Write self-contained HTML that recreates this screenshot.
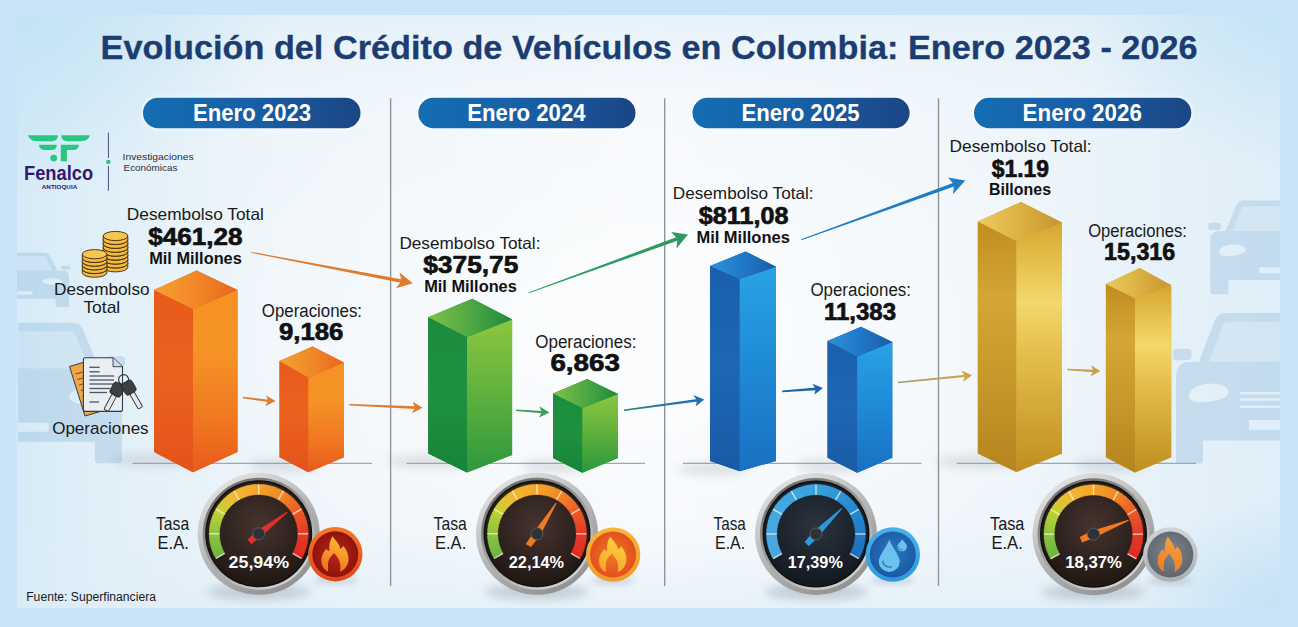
<!DOCTYPE html>
<html><head><meta charset="utf-8"><title>Evolución del Crédito de Vehículos en Colombia</title>
<style>html,body{margin:0;padding:0;background:#c9e4f6;} body{width:1298px;height:627px;overflow:hidden;font-family:"Liberation Sans", sans-serif;} svg{display:block}</style>
</head><body>
<svg width="1298" height="627" viewBox="0 0 1298 627">
<defs>
<linearGradient id="pill" x1="0" y1="0" x2="1" y2="0">
  <stop offset="0" stop-color="#146db2"/><stop offset="0.5" stop-color="#175fa6"/><stop offset="1" stop-color="#1c4584"/>
</linearGradient>
<filter id="blur3" x="-50%" y="-50%" width="200%" height="200%"><feGaussianBlur stdDeviation="3"/></filter>
<filter id="blur5" x="-50%" y="-50%" width="200%" height="200%"><feGaussianBlur stdDeviation="5"/></filter>
<filter id="blur2" x="-50%" y="-50%" width="200%" height="200%"><feGaussianBlur stdDeviation="1.5"/></filter>
<linearGradient id="orangeL" x1="0" y1="0" x2="0" y2="1"><stop offset="0" stop-color="#e85a1b"/><stop offset="0.45" stop-color="#ea621e"/><stop offset="1" stop-color="#e4531a"/></linearGradient><linearGradient id="orangeR" x1="0" y1="0" x2="0" y2="1"><stop offset="0" stop-color="#f59222"/><stop offset="0.35" stop-color="#f59326"/><stop offset="0.75" stop-color="#ef7420"/><stop offset="1" stop-color="#e85a1c"/></linearGradient><linearGradient id="orangeT" x1="0" y1="0" x2="1" y2="0"><stop offset="0" stop-color="#f6a032"/><stop offset="0.55" stop-color="#f08527"/><stop offset="1" stop-color="#e7661d"/></linearGradient><linearGradient id="greenL" x1="0" y1="0" x2="0" y2="1"><stop offset="0" stop-color="#1c8c3c"/><stop offset="0.5" stop-color="#1f913e"/><stop offset="1" stop-color="#168438"/></linearGradient><linearGradient id="greenR" x1="0" y1="0" x2="0" y2="1"><stop offset="0" stop-color="#8cc63f"/><stop offset="0.45" stop-color="#63b33d"/><stop offset="1" stop-color="#2c983e"/></linearGradient><linearGradient id="greenT" x1="0" y1="0" x2="1" y2="0"><stop offset="0" stop-color="#7fc247"/><stop offset="0.5" stop-color="#4ea843"/><stop offset="1" stop-color="#1e8a3e"/></linearGradient><linearGradient id="blueL" x1="0" y1="0" x2="0" y2="1"><stop offset="0" stop-color="#1a60ad"/><stop offset="0.5" stop-color="#1d67b3"/><stop offset="1" stop-color="#195aa6"/></linearGradient><linearGradient id="blueR" x1="0" y1="0" x2="0" y2="1"><stop offset="0" stop-color="#2aa2e5"/><stop offset="0.45" stop-color="#1f8cd8"/><stop offset="1" stop-color="#1a70c2"/></linearGradient><linearGradient id="blueT" x1="0" y1="0" x2="1" y2="0"><stop offset="0" stop-color="#2c92da"/><stop offset="0.5" stop-color="#2078c8"/><stop offset="1" stop-color="#1a5ca8"/></linearGradient><linearGradient id="goldL" x1="0" y1="0" x2="0" y2="1"><stop offset="0" stop-color="#c18d20"/><stop offset="0.3" stop-color="#d3a636"/><stop offset="0.6" stop-color="#c89a2c"/><stop offset="1" stop-color="#b5841f"/></linearGradient><linearGradient id="goldR" x1="0" y1="0" x2="0" y2="1"><stop offset="0" stop-color="#d7a72f"/><stop offset="0.32" stop-color="#f3d86b"/><stop offset="0.5" stop-color="#e6c150"/><stop offset="1" stop-color="#bf8f20"/></linearGradient><linearGradient id="goldT" x1="0" y1="0" x2="1" y2="0"><stop offset="0" stop-color="#ecca5e"/><stop offset="0.5" stop-color="#dcb142"/><stop offset="1" stop-color="#c69430"/></linearGradient>
<linearGradient id="bezel" x1="0.2" y1="0" x2="0.8" y2="1">
 <stop offset="0" stop-color="#e6e6e6"/><stop offset="0.45" stop-color="#b9b9b9"/><stop offset="1" stop-color="#8d8d8d"/></linearGradient>
<linearGradient id="bezel2" x1="0.8" y1="1" x2="0.2" y2="0">
 <stop offset="0" stop-color="#d8d8d8"/><stop offset="1" stop-color="#6a6a6a"/></linearGradient>
<radialGradient id="face0" cx="0.5" cy="0.42" r="0.55"><stop offset="0" stop-color="#46342e"/><stop offset="1" stop-color="#221916"/></radialGradient><radialGradient id="face1" cx="0.5" cy="0.42" r="0.55"><stop offset="0" stop-color="#46342e"/><stop offset="1" stop-color="#221916"/></radialGradient><radialGradient id="face2" cx="0.5" cy="0.42" r="0.55"><stop offset="0" stop-color="#2a3440"/><stop offset="1" stop-color="#141a22"/></radialGradient><radialGradient id="face3" cx="0.5" cy="0.42" r="0.55"><stop offset="0" stop-color="#46342e"/><stop offset="1" stop-color="#221916"/></radialGradient>
<radialGradient id="b1in" cx="0.5" cy="0.5" r="0.5"><stop offset="0" stop-color="#b8261a"/><stop offset="1" stop-color="#8f130c"/></radialGradient>
<linearGradient id="b1ring" x1="0" y1="0" x2="0" y2="1"><stop offset="0" stop-color="#f27a2c"/><stop offset="1" stop-color="#e0461c"/></linearGradient>
<linearGradient id="flame1" x1="0.2" y1="1" x2="0.5" y2="0"><stop offset="0" stop-color="#ef6e20"/><stop offset="0.5" stop-color="#f6932a"/><stop offset="1" stop-color="#fbba30"/></linearGradient>
<radialGradient id="b2in" cx="0.5" cy="0.5" r="0.5"><stop offset="0" stop-color="#f07a28"/><stop offset="1" stop-color="#e2501c"/></radialGradient>
<linearGradient id="b2ring" x1="0" y1="0" x2="0" y2="1"><stop offset="0" stop-color="#f8b53a"/><stop offset="1" stop-color="#f09a2a"/></linearGradient>
<linearGradient id="flame2" x1="0.2" y1="1" x2="0.5" y2="0"><stop offset="0" stop-color="#f7a12c"/><stop offset="1" stop-color="#fcd43e"/></linearGradient>
<radialGradient id="b3in" cx="0.5" cy="0.45" r="0.55"><stop offset="0" stop-color="#2a79c0"/><stop offset="1" stop-color="#1b58a3"/></radialGradient>
<linearGradient id="b3ring" x1="0" y1="0" x2="0" y2="1"><stop offset="0" stop-color="#48b2ea"/><stop offset="1" stop-color="#2f98dc"/></linearGradient>
<radialGradient id="b4in" cx="0.5" cy="0.45" r="0.55"><stop offset="0" stop-color="#7e858c"/><stop offset="1" stop-color="#5f666d"/></radialGradient>
<linearGradient id="b4ring" x1="0" y1="0" x2="0" y2="1"><stop offset="0" stop-color="#d2d5d8"/><stop offset="1" stop-color="#a9aeb3"/></linearGradient>
<linearGradient id="flame4" x1="0.2" y1="1" x2="0.5" y2="0"><stop offset="0" stop-color="#ef7a26"/><stop offset="1" stop-color="#f6a040"/></linearGradient>

<linearGradient id="panelH" x1="0" y1="0" x2="1" y2="0">
 <stop offset="0" stop-color="#d6ebf7"/><stop offset="0.06" stop-color="#e0eff8"/><stop offset="0.2" stop-color="#eef5fa"/>
 <stop offset="0.5" stop-color="#f6f9fc"/><stop offset="0.8" stop-color="#eef5fa"/><stop offset="0.94" stop-color="#e3f0f8"/><stop offset="1" stop-color="#dfeef8"/></linearGradient>
<linearGradient id="panelV" x1="0" y1="0" x2="0" y2="1">
 <stop offset="0" stop-color="#d6eaf7" stop-opacity="0.5"/><stop offset="0.06" stop-color="#dcedf8" stop-opacity="0.3"/><stop offset="0.16" stop-color="#e6f1f9" stop-opacity="0"/>
 <stop offset="0.85" stop-color="#e2eff8" stop-opacity="0"/><stop offset="1" stop-color="#dcecf7" stop-opacity="0.5"/></linearGradient>
<radialGradient id="cornerTL" cx="0" cy="0" r="1"><stop offset="0" stop-color="#bfe2f3" stop-opacity="0.85"/><stop offset="1" stop-color="#bfe2f3" stop-opacity="0"/></radialGradient>
<radialGradient id="cornerBR" cx="1" cy="1" r="1"><stop offset="0" stop-color="#c2e1f4" stop-opacity="0.95"/><stop offset="1" stop-color="#c2e1f4" stop-opacity="0"/></radialGradient>
<radialGradient id="cornerTR" cx="1" cy="0" r="1"><stop offset="0" stop-color="#c0e2f4" stop-opacity="0.8"/><stop offset="1" stop-color="#c0e2f4" stop-opacity="0"/></radialGradient>
<radialGradient id="glow" cx="0.5" cy="0.5" r="0.5"><stop offset="0" stop-color="#ffffff" stop-opacity="0.7"/><stop offset="1" stop-color="#ffffff" stop-opacity="0"/></radialGradient>
<mask id="carmask" maskUnits="userSpaceOnUse" x="0" y="0" width="1298" height="627"><g transform="translate(1280,313) scale(-1,1)"><path d="M0,0 L55,0 C60,0 63,3 65,7 L81,49 L0,49 Z" fill="#fff"/>
<path d="M0,9 L52,9 C55,9 57,11 58,14 L71,49 L0,49 Z" fill="#777"/>
<path d="M0,49 L92,49 C99,49 104,55 104,64 L104,127.6 L0,127.6 Z" fill="#fff"/>
<rect x="88.4" y="35.8" width="18.7" height="11.5" rx="4" fill="#fff"/>
<rect x="77" y="120" width="27" height="30.6" rx="3" fill="#fff"/>
<path d="M51,79 C53,72 62,70 74,71 C84,72 91,77 91,83 C91,88 84,90 74,89 C62,88 52,85 51,79 Z" fill="#000"/>
<rect x="0" y="79.0" width="39.7" height="2.6" fill="#000"/>
<rect x="0" y="85.2" width="39.7" height="2.6" fill="#000"/>
<rect x="0" y="92.4" width="39.7" height="2.6" fill="#000"/>
<rect x="0" y="107" width="31" height="9.7" rx="1" fill="#000"/></g><g transform="translate(1280,200.5) scale(-0.67,0.623)"><path d="M0,0 L55,0 C60,0 63,3 65,7 L81,49 L0,49 Z" fill="#fff"/>
<path d="M0,9 L52,9 C55,9 57,11 58,14 L71,49 L0,49 Z" fill="#777"/>
<path d="M0,49 L92,49 C99,49 104,55 104,64 L104,127.6 L0,127.6 Z" fill="#fff"/>
<rect x="88.4" y="35.8" width="18.7" height="11.5" rx="4" fill="#fff"/>
<rect x="77" y="120" width="27" height="30.6" rx="3" fill="#fff"/>
<path d="M51,79 C53,72 62,70 74,71 C84,72 91,77 91,83 C91,88 84,90 74,89 C62,88 52,85 51,79 Z" fill="#000"/>
<rect x="0" y="107" width="31" height="9.7" rx="1" fill="#000"/></g><g transform="translate(17.9,322.8) scale(1.0,0.933)"><path d="M0,0 L55,0 C60,0 63,3 65,7 L81,49 L0,49 Z" fill="#fff"/>
<path d="M0,9 L52,9 C55,9 57,11 58,14 L71,49 L0,49 Z" fill="#777"/>
<path d="M0,49 L92,49 C99,49 104,55 104,64 L104,127.6 L0,127.6 Z" fill="#fff"/>
<rect x="88.4" y="35.8" width="18.7" height="11.5" rx="4" fill="#fff"/>
<rect x="77" y="120" width="27" height="30.6" rx="3" fill="#fff"/>
<path d="M51,79 C53,72 62,70 74,71 C84,72 91,77 91,83 C91,88 84,90 74,89 C62,88 52,85 51,79 Z" fill="#000"/>
<rect x="0" y="107" width="31" height="9.7" rx="1" fill="#000"/></g><g transform="translate(17,252.8) scale(0.5,0.36)"><path d="M0,0 L55,0 C60,0 63,3 65,7 L81,49 L0,49 Z" fill="#fff"/>
<path d="M0,9 L52,9 C55,9 57,11 58,14 L71,49 L0,49 Z" fill="#777"/>
<path d="M0,49 L92,49 C99,49 104,55 104,64 L104,127.6 L0,127.6 Z" fill="#fff"/>
<rect x="88.4" y="35.8" width="18.7" height="11.5" rx="4" fill="#fff"/>
<rect x="77" y="120" width="27" height="30.6" rx="3" fill="#fff"/>
<path d="M51,79 C53,72 62,70 74,71 C84,72 91,77 91,83 C91,88 84,90 74,89 C62,88 52,85 51,79 Z" fill="#000"/>
<rect x="0" y="107" width="31" height="9.7" rx="1" fill="#000"/></g></mask></defs>
<rect x="0" y="0" width="1298" height="627" fill="#c9e4f6"/>
<rect x="17" y="15" width="1263" height="593" fill="url(#panelH)"/>
<rect x="17" y="15" width="1263" height="593" fill="url(#panelV)"/>
<ellipse cx="650" cy="330" rx="520" ry="260" fill="url(#glow)"/>
<rect x="17" y="15" width="260" height="180" fill="url(#cornerTL)"/>
<rect x="1080" y="15" width="200" height="150" fill="url(#cornerTR)"/>
<rect x="1130" y="500" width="150" height="108" fill="url(#cornerBR)"/>
<rect x="17" y="15" width="1263" height="593" fill="#4a8cc0" opacity="0.19" mask="url(#carmask)"/>
<rect x="141.5" y="96.3" width="220.5" height="33.4" rx="16.7" fill="#ffffff" opacity="0.55" filter="url(#blur2)"/>
<rect x="143" y="97.8" width="217.5" height="30.4" rx="15.2" fill="url(#pill)"/>
<rect x="416.8" y="96.3" width="220.2" height="33.4" rx="16.7" fill="#ffffff" opacity="0.55" filter="url(#blur2)"/>
<rect x="418.3" y="97.8" width="217.2" height="30.4" rx="15.2" fill="url(#pill)"/>
<rect x="691.0" y="96.3" width="220.1" height="33.4" rx="16.7" fill="#ffffff" opacity="0.55" filter="url(#blur2)"/>
<rect x="692.5" y="97.8" width="217.1" height="30.4" rx="15.2" fill="url(#pill)"/>
<rect x="972.5" y="96.3" width="220.3" height="33.4" rx="16.7" fill="#ffffff" opacity="0.55" filter="url(#blur2)"/>
<rect x="974" y="97.8" width="217.3" height="30.4" rx="15.2" fill="url(#pill)"/>
<line x1="390.6" y1="98.2" x2="390.6" y2="586" stroke="#8f959a" stroke-width="1.4"/>
<line x1="664.7" y1="98.2" x2="664.7" y2="586" stroke="#8f959a" stroke-width="1.4"/>
<line x1="938.5" y1="98.2" x2="938.5" y2="586" stroke="#8f959a" stroke-width="1.4"/>
<line x1="132.5" y1="463.3" x2="372" y2="463.3" stroke="#a2a7ac" stroke-width="1.3"/>
<line x1="406.7" y1="463.3" x2="645" y2="463.3" stroke="#a2a7ac" stroke-width="1.3"/>
<line x1="683" y1="463.3" x2="921.4" y2="463.3" stroke="#a2a7ac" stroke-width="1.3"/>
<line x1="956.7" y1="463.3" x2="1196" y2="463.3" stroke="#a2a7ac" stroke-width="1.3"/>
<path d="M28,135.3 L57.8,135.3 C58,138 56.5,141 52,141.2 L37,141.2 C32,141.2 29,138.5 28,135.3 Z" fill="#27c77f"/>
<path d="M89.9,135.3 L61.3,135.3 C61.2,138 62.7,141 67,141.2 L81,141.2 C86,141.2 89,138.5 89.9,135.3 Z" fill="#27c77f"/>
<path d="M38.9,144.8 L56.7,144.8 C56.7,147.5 55.5,149.9 52,149.9 L44,149.9 C41,149.9 39.3,147.5 38.9,144.8 Z" fill="#27c77f"/>
<path d="M60.8,144.8 L79,144.8 C78.6,147.5 77,149.9 74,149.9 L66.9,149.9 L66.9,161.2 L60.8,161.2 Z" fill="#27c77f"/>
<circle cx="53.7" cy="158.1" r="3.4" fill="#27c77f"/>
<line x1="108.4" y1="132.6" x2="108.4" y2="158" stroke="#4b4a8a" stroke-width="1"/>
<line x1="108.4" y1="165.8" x2="108.4" y2="190.8" stroke="#4b4a8a" stroke-width="1"/>
<circle cx="108.3" cy="161.9" r="2.2" fill="#27c77f"/>
<path d="M103.2,263.4 L103.2,267.3 A12.3,4.6 0 0 0 127.8,267.3 L127.8,263.4 Z" fill="#f3b940" stroke="#3a2812" stroke-width="0.9"/>
<ellipse cx="115.5" cy="263.4" rx="12.3" ry="4.6" fill="#f3b940" stroke="#3a2812" stroke-width="0.9"/>
<path d="M103.2,259.5 L103.2,263.4 A12.3,4.6 0 0 0 127.8,263.4 L127.8,259.5 Z" fill="#f3b940" stroke="#3a2812" stroke-width="0.9"/>
<ellipse cx="115.5" cy="259.5" rx="12.3" ry="4.6" fill="#f3b940" stroke="#3a2812" stroke-width="0.9"/>
<path d="M103.2,255.6 L103.2,259.5 A12.3,4.6 0 0 0 127.8,259.5 L127.8,255.6 Z" fill="#f3b940" stroke="#3a2812" stroke-width="0.9"/>
<ellipse cx="115.5" cy="255.6" rx="12.3" ry="4.6" fill="#f3b940" stroke="#3a2812" stroke-width="0.9"/>
<path d="M103.2,251.6 L103.2,255.5 A12.3,4.6 0 0 0 127.8,255.5 L127.8,251.6 Z" fill="#f3b940" stroke="#3a2812" stroke-width="0.9"/>
<ellipse cx="115.5" cy="251.6" rx="12.3" ry="4.6" fill="#f3b940" stroke="#3a2812" stroke-width="0.9"/>
<path d="M103.2,247.7 L103.2,251.6 A12.3,4.6 0 0 0 127.8,251.6 L127.8,247.7 Z" fill="#f3b940" stroke="#3a2812" stroke-width="0.9"/>
<ellipse cx="115.5" cy="247.7" rx="12.3" ry="4.6" fill="#f3b940" stroke="#3a2812" stroke-width="0.9"/>
<path d="M103.2,243.8 L103.2,247.7 A12.3,4.6 0 0 0 127.8,247.7 L127.8,243.8 Z" fill="#f3b940" stroke="#3a2812" stroke-width="0.9"/>
<ellipse cx="115.5" cy="243.8" rx="12.3" ry="4.6" fill="#f3b940" stroke="#3a2812" stroke-width="0.9"/>
<path d="M103.2,239.9 L103.2,243.8 A12.3,4.6 0 0 0 127.8,243.8 L127.8,239.9 Z" fill="#f3b940" stroke="#3a2812" stroke-width="0.9"/>
<ellipse cx="115.5" cy="239.9" rx="12.3" ry="4.6" fill="#f3b940" stroke="#3a2812" stroke-width="0.9"/>
<path d="M103.2,236.0 L103.2,239.9 A12.3,4.6 0 0 0 127.8,239.9 L127.8,236.0 Z" fill="#f3b940" stroke="#3a2812" stroke-width="0.9"/>
<ellipse cx="115.5" cy="236.0" rx="12.3" ry="4.6" fill="#f7c650" stroke="#3a2812" stroke-width="0.9"/>
<path d="M82.3,269.0 L82.3,272.7 A12.3,4.6 0 0 0 106.9,272.7 L106.9,269.0 Z" fill="#f3b940" stroke="#3a2812" stroke-width="0.9"/>
<ellipse cx="94.6" cy="269.0" rx="12.3" ry="4.6" fill="#f3b940" stroke="#3a2812" stroke-width="0.9"/>
<path d="M82.3,265.3 L82.3,269.0 A12.3,4.6 0 0 0 106.9,269.0 L106.9,265.3 Z" fill="#f3b940" stroke="#3a2812" stroke-width="0.9"/>
<ellipse cx="94.6" cy="265.3" rx="12.3" ry="4.6" fill="#f3b940" stroke="#3a2812" stroke-width="0.9"/>
<path d="M82.3,261.6 L82.3,265.3 A12.3,4.6 0 0 0 106.9,265.3 L106.9,261.6 Z" fill="#f3b940" stroke="#3a2812" stroke-width="0.9"/>
<ellipse cx="94.6" cy="261.6" rx="12.3" ry="4.6" fill="#f3b940" stroke="#3a2812" stroke-width="0.9"/>
<path d="M82.3,257.9 L82.3,261.6 A12.3,4.6 0 0 0 106.9,261.6 L106.9,257.9 Z" fill="#f3b940" stroke="#3a2812" stroke-width="0.9"/>
<ellipse cx="94.6" cy="257.9" rx="12.3" ry="4.6" fill="#f3b940" stroke="#3a2812" stroke-width="0.9"/>
<path d="M82.3,254.2 L82.3,257.9 A12.3,4.6 0 0 0 106.9,257.9 L106.9,254.2 Z" fill="#f3b940" stroke="#3a2812" stroke-width="0.9"/>
<ellipse cx="94.6" cy="254.2" rx="12.3" ry="4.6" fill="#f7c650" stroke="#3a2812" stroke-width="0.9"/>
<polygon points="69.5,366.5 93,359.5 108.5,409 85,416" fill="#f2a448" stroke="#333a40" stroke-width="1" stroke-linejoin="round"/>
<line x1="75.6" y1="374.0" x2="82.6" y2="372.0" stroke="#6b4a25" stroke-width="1"/>
<line x1="77.3" y1="379.5" x2="84.3" y2="377.5" stroke="#6b4a25" stroke-width="1"/>
<line x1="79.1" y1="385.0" x2="86.1" y2="383.0" stroke="#6b4a25" stroke-width="1"/>
<line x1="80.8" y1="390.5" x2="87.8" y2="388.5" stroke="#6b4a25" stroke-width="1"/>
<line x1="82.6" y1="396.0" x2="89.6" y2="394.0" stroke="#6b4a25" stroke-width="1"/>
<line x1="84.4" y1="401.5" x2="91.4" y2="399.5" stroke="#6b4a25" stroke-width="1"/>
<path d="M85.5,357.8 L113,357.8 L122.5,366.7 L122.5,409.4 C122.5,410.6 121.6,411.4 120.5,411.4 L85.5,411.4 C84.3,411.4 83.4,410.6 83.4,409.4 L83.4,359.8 C83.4,358.7 84.3,357.8 85.5,357.8 Z" fill="#e9eef3" stroke="#333a40" stroke-width="1.1"/>
<path d="M113,357.8 L113,366.7 L122.5,366.7" fill="#d3dbe3" stroke="#333a40" stroke-width="0.9"/>
<line x1="89.5" y1="367.3" x2="99.6" y2="367.3" stroke="#4a5560" stroke-width="1.3"/>
<line x1="89.5" y1="371.8" x2="99.6" y2="371.8" stroke="#4a5560" stroke-width="1.3"/>
<line x1="89.5" y1="376" x2="114" y2="376" stroke="#4a5560" stroke-width="1.3"/>
<line x1="89.5" y1="380" x2="114" y2="380" stroke="#4a5560" stroke-width="1.3"/>
<line x1="89.5" y1="384" x2="114" y2="384" stroke="#4a5560" stroke-width="1.3"/>
<line x1="89.5" y1="388.5" x2="110" y2="388.5" stroke="#4a5560" stroke-width="1.3"/>
<line x1="89.5" y1="392.5" x2="107" y2="392.5" stroke="#4a5560" stroke-width="1.3"/>
<line x1="89.5" y1="402" x2="99" y2="402" stroke="#4a5560" stroke-width="1.3"/>
<circle cx="123.6" cy="379.6" r="5" fill="none" stroke="#333a40" stroke-width="1.2"/>
<g transform="rotate(28 117 390)"><rect x="111" y="383" width="12" height="13" rx="3" fill="#3c3f43" stroke="#222" stroke-width="0.8"/><rect x="114.5" y="396" width="5" height="17" rx="1" fill="#e8e8e8" stroke="#333" stroke-width="0.9"/></g>
<g transform="rotate(-30 129 388)"><rect x="123" y="381" width="12" height="13" rx="3" fill="#3c3f43" stroke="#222" stroke-width="0.8"/><rect x="126.5" y="394" width="5" height="17" rx="1" fill="#e8e8e8" stroke="#333" stroke-width="0.9"/></g>
<polygon points="251.31,252.89 401.93,283.01 402.60,279.47 251.49,251.91" fill="#e07b2c"/><polygon points="399.60,272.50 412.80,283.20 395.90,288.30 401.51,281.10" fill="#e07b2c"/>
<linearGradient id="ag1" gradientUnits="userSpaceOnUse" x1="528.6" y1="292.9" x2="688" y2="234.5"><stop offset="0" stop-color="#2f9a5c"/><stop offset="0.8" stop-color="#2e9a62"/></linearGradient><polygon points="528.77,293.37 678.71,240.22 677.48,236.83 528.43,292.43" fill="url(#ag1)"/><polygon points="671.20,232.00 688.00,234.50 676.50,248.50 677.39,238.81" fill="#2e9a62"/>
<linearGradient id="ag2" gradientUnits="userSpaceOnUse" x1="801.2" y1="239.8" x2="965.2" y2="180.4"><stop offset="0" stop-color="#1f7ec3"/><stop offset="0.8" stop-color="#1f7ec3"/></linearGradient><polygon points="801.37,240.27 955.56,186.04 954.26,182.46 801.03,239.33" fill="url(#ag2)"/><polygon points="948.00,177.50 965.20,180.40 953.00,194.30 954.17,184.53" fill="#1f7ec3"/>
<polygon points="242.78,398.29 268.43,402.05 268.77,399.67 243.02,396.71" fill="#e07b2c"/><polygon points="265.90,395.40 275.60,401.00 265.30,406.20 268.10,400.85" fill="#e07b2c"/>
<polygon points="349.37,405.60 415.37,408.89 415.49,406.29 349.43,404.00" fill="#e07b2c"/><polygon points="412.80,401.80 422.50,407.80 412.00,413.20 414.92,407.57" fill="#e07b2c"/>
<polygon points="516.04,411.00 542.16,413.31 542.35,410.92 516.16,409.40" fill="#3d9f5c"/><polygon points="539.30,406.30 549.50,412.50 539.00,417.60 541.74,412.09" fill="#3d9f5c"/>
<linearGradient id="ag6" gradientUnits="userSpaceOnUse" x1="624" y1="410.2" x2="704.2" y2="399.5"><stop offset="0" stop-color="#2c8276"/><stop offset="0.8" stop-color="#1f70b2"/></linearGradient><polygon points="624.09,410.89 697.59,401.56 697.23,398.98 623.91,409.51" fill="url(#ag6)"/><polygon points="693.20,394.90 704.20,399.50 695.80,406.30 696.92,400.33" fill="#1f70b2"/>
<polygon points="782.25,392.20 816.34,390.21 816.16,387.61 782.15,390.60" fill="#1d65a9"/><polygon points="812.40,383.80 822.90,388.00 814.40,394.80 815.77,388.98" fill="#1d65a9"/>
<linearGradient id="ag8" gradientUnits="userSpaceOnUse" x1="898" y1="382.5" x2="972" y2="375.3"><stop offset="0" stop-color="#9c9a82"/><stop offset="0.8" stop-color="#d1a445"/></linearGradient><polygon points="898.07,383.20 965.36,377.12 965.13,374.74 897.93,381.80" fill="url(#ag8)"/><polygon points="961.50,370.60 972.00,375.30 963.20,381.80 964.76,375.98" fill="#d1a445"/>
<polygon points="1067.15,370.30 1093.61,372.13 1093.75,369.73 1067.25,368.70" fill="#c9a04a"/><polygon points="1091.10,365.30 1100.40,371.00 1090.50,376.50 1093.20,370.92" fill="#c9a04a"/>
<ellipse cx="158.0" cy="460.0" rx="45.9" ry="7" fill="#8a8f96" opacity="0.22" filter="url(#blur5)"/>
<polygon points="154.00,290.00 196.50,270.50 237.50,290.00 237.50,452.00 193.00,472.30 154.00,452.00" fill="#ea621e"/>
<polygon points="154.00,290.00 193.00,309.00 193.00,472.30 154.00,452.00" fill="url(#orangeL)"/>
<polygon points="193.00,309.00 237.50,290.00 237.50,452.00 193.00,472.30" fill="url(#orangeR)"/>
<polygon points="154.00,290.00 196.50,270.50 237.50,290.00 193.00,309.00" fill="url(#orangeT)"/>
<ellipse cx="283.5" cy="465.3" rx="35.5" ry="7" fill="#8a8f96" opacity="0.22" filter="url(#blur5)"/>
<polygon points="279.50,361.00 312.50,346.50 344.00,362.60 344.00,457.30 308.30,472.30 279.50,457.30" fill="#ea621e"/>
<polygon points="279.50,361.00 308.30,377.50 308.30,472.30 279.50,457.30" fill="url(#orangeL)"/>
<polygon points="308.30,377.50 344.00,362.60 344.00,457.30 308.30,472.30" fill="url(#orangeR)"/>
<polygon points="279.50,361.00 312.50,346.50 344.00,362.60 308.30,377.50" fill="url(#orangeT)"/>
<ellipse cx="432.2" cy="461.6" rx="46.1" ry="7" fill="#8a8f96" opacity="0.22" filter="url(#blur5)"/>
<polygon points="428.20,317.30 472.30,298.70 512.10,319.40 512.10,455.00 467.00,472.40 428.20,453.60" fill="#1f913e"/>
<polygon points="428.20,317.30 467.00,337.00 467.00,472.40 428.20,453.60" fill="url(#greenL)"/>
<polygon points="467.00,337.00 512.10,319.40 512.10,455.00 467.00,472.40" fill="url(#greenR)"/>
<polygon points="428.20,317.30 472.30,298.70 512.10,319.40 467.00,337.00" fill="url(#greenT)"/>
<ellipse cx="557.0" cy="466.0" rx="35.8" ry="7" fill="#8a8f96" opacity="0.22" filter="url(#blur5)"/>
<polygon points="553.00,393.50 587.20,379.00 618.00,394.00 618.00,458.00 582.30,472.70 553.00,458.00" fill="#1f913e"/>
<polygon points="553.00,393.50 582.30,408.00 582.30,472.70 553.00,458.00" fill="url(#greenL)"/>
<polygon points="582.30,408.00 618.00,394.00 618.00,458.00 582.30,472.70" fill="url(#greenR)"/>
<polygon points="553.00,393.50 587.20,379.00 618.00,394.00 582.30,408.00" fill="url(#greenT)"/>
<ellipse cx="714.0" cy="469.0" rx="36.3" ry="7" fill="#8a8f96" opacity="0.22" filter="url(#blur5)"/>
<polygon points="710.00,266.00 745.60,251.50 776.00,266.70 776.00,461.00 739.70,471.20 710.00,461.00" fill="#1d67b3"/>
<polygon points="710.00,266.00 739.70,279.00 739.70,471.20 710.00,461.00" fill="url(#blueL)"/>
<polygon points="739.70,279.00 776.00,266.70 776.00,461.00 739.70,471.20" fill="url(#blueR)"/>
<polygon points="710.00,266.00 745.60,251.50 776.00,266.70 739.70,279.00" fill="url(#blueT)"/>
<ellipse cx="831.5" cy="465.7" rx="35.6" ry="7" fill="#8a8f96" opacity="0.22" filter="url(#blur5)"/>
<polygon points="827.50,341.00 861.00,326.80 892.30,342.00 892.30,457.70 857.20,472.80 827.50,457.70" fill="#1d67b3"/>
<polygon points="827.50,341.00 857.20,356.50 857.20,472.80 827.50,457.70" fill="url(#blueL)"/>
<polygon points="857.20,356.50 892.30,342.00 892.30,457.70 857.20,472.80" fill="url(#blueR)"/>
<polygon points="827.50,341.00 861.00,326.80 892.30,342.00 857.20,356.50" fill="url(#blueT)"/>
<ellipse cx="981.8" cy="461.6" rx="46.3" ry="7" fill="#8a8f96" opacity="0.22" filter="url(#blur5)"/>
<polygon points="977.80,221.50 1021.00,202.00 1062.00,222.40 1062.00,453.60 1016.40,472.10 977.80,453.60" fill="#d3a636"/>
<polygon points="977.80,221.50 1016.40,240.90 1016.40,472.10 977.80,453.60" fill="url(#goldL)"/>
<polygon points="1016.40,240.90 1062.00,222.40 1062.00,453.60 1016.40,472.10" fill="url(#goldR)"/>
<polygon points="977.80,221.50 1021.00,202.00 1062.00,222.40 1016.40,240.90" fill="url(#goldT)"/>
<ellipse cx="1109.9" cy="465.3" rx="35.9" ry="7" fill="#8a8f96" opacity="0.22" filter="url(#blur5)"/>
<polygon points="1105.90,284.00 1139.80,268.00 1171.20,285.30 1171.20,457.30 1135.00,472.40 1105.90,457.30" fill="#d3a636"/>
<polygon points="1105.90,284.00 1135.00,298.20 1135.00,472.40 1105.90,457.30" fill="url(#goldL)"/>
<polygon points="1135.00,298.20 1171.20,285.30 1171.20,457.30 1135.00,472.40" fill="url(#goldR)"/>
<polygon points="1105.90,284.00 1139.80,268.00 1171.20,285.30 1135.00,298.20" fill="url(#goldT)"/>
<ellipse cx="258.7" cy="591.8" rx="52" ry="8" fill="#7d8a96" opacity="0.35" filter="url(#blur5)"/>
<circle cx="258.7" cy="533.8" r="61" fill="url(#bezel)"/>
<circle cx="258.7" cy="533.8" r="56" fill="url(#bezel2)"/>
<circle cx="258.7" cy="533.8" r="53.5" fill="#111111"/>
<circle cx="258.7" cy="533.8" r="52" fill="url(#face0)"/>
<path d="M215.92,558.50 A49.4,49.4 0 0 1 213.71,554.21 L222.91,550.04 A39.3,39.3 0 0 0 224.67,553.45 Z" fill="#70b640" stroke="#70b640" stroke-width="0.6"/>
<path d="M213.93,554.68 A49.4,49.4 0 0 1 212.10,550.21 L221.63,546.85 A39.3,39.3 0 0 0 223.08,550.41 Z" fill="#75b940" stroke="#75b940" stroke-width="0.6"/>
<path d="M212.28,550.70 A49.4,49.4 0 0 1 210.85,546.09 L220.63,543.57 A39.3,39.3 0 0 0 221.77,547.24 Z" fill="#7abb40" stroke="#7abb40" stroke-width="0.6"/>
<path d="M210.98,546.59 A49.4,49.4 0 0 1 209.96,541.87 L219.93,540.22 A39.3,39.3 0 0 0 220.74,543.97 Z" fill="#7fbe3f" stroke="#7fbe3f" stroke-width="0.6"/>
<path d="M210.05,542.38 A49.4,49.4 0 0 1 209.45,537.59 L219.52,536.82 A39.3,39.3 0 0 0 220.00,540.62 Z" fill="#84c03f" stroke="#84c03f" stroke-width="0.6"/>
<path d="M209.49,538.11 A49.4,49.4 0 0 1 209.30,533.28 L219.40,533.39 A39.3,39.3 0 0 0 219.55,537.23 Z" fill="#89c33f" stroke="#89c33f" stroke-width="0.6"/>
<path d="M209.30,533.80 A49.4,49.4 0 0 1 209.54,528.98 L219.59,529.96 A39.3,39.3 0 0 0 219.40,533.80 Z" fill="#90c53e" stroke="#90c53e" stroke-width="0.6"/>
<path d="M209.49,529.49 A49.4,49.4 0 0 1 210.14,524.71 L220.07,526.57 A39.3,39.3 0 0 0 219.55,530.37 Z" fill="#9ac83d" stroke="#9ac83d" stroke-width="0.6"/>
<path d="M210.05,525.22 A49.4,49.4 0 0 1 211.12,520.52 L220.85,523.23 A39.3,39.3 0 0 0 220.00,526.98 Z" fill="#a2ca3b" stroke="#a2ca3b" stroke-width="0.6"/>
<path d="M210.98,521.01 A49.4,49.4 0 0 1 212.46,516.42 L221.91,519.97 A39.3,39.3 0 0 0 220.74,523.63 Z" fill="#accc3a" stroke="#accc3a" stroke-width="0.6"/>
<path d="M212.28,516.90 A49.4,49.4 0 0 1 214.15,512.45 L223.26,516.82 A39.3,39.3 0 0 0 221.77,520.36 Z" fill="#b4ce38" stroke="#b4ce38" stroke-width="0.6"/>
<path d="M213.93,512.92 A49.4,49.4 0 0 1 216.18,508.65 L224.87,513.79 A39.3,39.3 0 0 0 223.08,517.19 Z" fill="#bed137" stroke="#bed137" stroke-width="0.6"/>
<path d="M215.92,509.10 A49.4,49.4 0 0 1 218.53,505.04 L226.75,510.92 A39.3,39.3 0 0 0 224.67,514.15 Z" fill="#c7d036" stroke="#c7d036" stroke-width="0.6"/>
<path d="M218.23,505.47 A49.4,49.4 0 0 1 221.19,501.65 L228.86,508.22 A39.3,39.3 0 0 0 226.51,511.26 Z" fill="#d0cb35" stroke="#d0cb35" stroke-width="0.6"/>
<path d="M220.86,502.05 A49.4,49.4 0 0 1 224.14,498.51 L231.20,505.72 A39.3,39.3 0 0 0 228.59,508.54 Z" fill="#d9c635" stroke="#d9c635" stroke-width="0.6"/>
<path d="M223.77,498.87 A49.4,49.4 0 0 1 227.34,495.63 L233.76,503.43 A39.3,39.3 0 0 0 230.91,506.01 Z" fill="#e2c235" stroke="#e2c235" stroke-width="0.6"/>
<path d="M226.95,495.96 A49.4,49.4 0 0 1 230.79,493.04 L236.50,501.37 A39.3,39.3 0 0 0 233.44,503.69 Z" fill="#ebbd34" stroke="#ebbd34" stroke-width="0.6"/>
<path d="M230.37,493.33 A49.4,49.4 0 0 1 234.45,490.76 L239.41,499.56 A39.3,39.3 0 0 0 236.16,501.61 Z" fill="#f0b933" stroke="#f0b933" stroke-width="0.6"/>
<path d="M234.00,491.02 A49.4,49.4 0 0 1 238.29,488.81 L242.46,498.01 A39.3,39.3 0 0 0 239.05,499.77 Z" fill="#f1b632" stroke="#f1b632" stroke-width="0.6"/>
<path d="M237.82,489.03 A49.4,49.4 0 0 1 242.29,487.20 L245.65,496.73 A39.3,39.3 0 0 0 242.09,498.18 Z" fill="#f2b331" stroke="#f2b331" stroke-width="0.6"/>
<path d="M241.80,487.38 A49.4,49.4 0 0 1 246.41,485.95 L248.93,495.73 A39.3,39.3 0 0 0 245.26,496.87 Z" fill="#f3b02f" stroke="#f3b02f" stroke-width="0.6"/>
<path d="M245.91,486.08 A49.4,49.4 0 0 1 250.63,485.06 L252.28,495.03 A39.3,39.3 0 0 0 248.53,495.84 Z" fill="#f4ad2e" stroke="#f4ad2e" stroke-width="0.6"/>
<path d="M250.12,485.15 A49.4,49.4 0 0 1 254.91,484.55 L255.68,494.62 A39.3,39.3 0 0 0 251.88,495.10 Z" fill="#f5aa2d" stroke="#f5aa2d" stroke-width="0.6"/>
<path d="M254.39,484.59 A49.4,49.4 0 0 1 259.22,484.40 L259.11,494.50 A39.3,39.3 0 0 0 255.27,494.65 Z" fill="#f5a62c" stroke="#f5a62c" stroke-width="0.6"/>
<path d="M258.70,484.40 A49.4,49.4 0 0 1 263.52,484.64 L262.54,494.69 A39.3,39.3 0 0 0 258.70,494.50 Z" fill="#f4a22b" stroke="#f4a22b" stroke-width="0.6"/>
<path d="M263.01,484.59 A49.4,49.4 0 0 1 267.79,485.24 L265.93,495.17 A39.3,39.3 0 0 0 262.13,494.65 Z" fill="#f49d2a" stroke="#f49d2a" stroke-width="0.6"/>
<path d="M267.28,485.15 A49.4,49.4 0 0 1 271.98,486.22 L269.27,495.95 A39.3,39.3 0 0 0 265.52,495.10 Z" fill="#f3992a" stroke="#f3992a" stroke-width="0.6"/>
<path d="M271.49,486.08 A49.4,49.4 0 0 1 276.08,487.56 L272.53,497.01 A39.3,39.3 0 0 0 268.87,495.84 Z" fill="#f29529" stroke="#f29529" stroke-width="0.6"/>
<path d="M275.60,487.38 A49.4,49.4 0 0 1 280.05,489.25 L275.68,498.36 A39.3,39.3 0 0 0 272.14,496.87 Z" fill="#f29028" stroke="#f29028" stroke-width="0.6"/>
<path d="M279.58,489.03 A49.4,49.4 0 0 1 283.85,491.28 L278.71,499.97 A39.3,39.3 0 0 0 275.31,498.18 Z" fill="#f18c27" stroke="#f18c27" stroke-width="0.6"/>
<path d="M283.40,491.02 A49.4,49.4 0 0 1 287.46,493.63 L281.58,501.85 A39.3,39.3 0 0 0 278.35,499.77 Z" fill="#f18627" stroke="#f18627" stroke-width="0.6"/>
<path d="M287.03,493.33 A49.4,49.4 0 0 1 290.85,496.29 L284.28,503.96 A39.3,39.3 0 0 0 281.24,501.61 Z" fill="#f07e27" stroke="#f07e27" stroke-width="0.6"/>
<path d="M290.45,495.96 A49.4,49.4 0 0 1 293.99,499.24 L286.78,506.30 A39.3,39.3 0 0 0 283.96,503.69 Z" fill="#ef7727" stroke="#ef7727" stroke-width="0.6"/>
<path d="M293.63,498.87 A49.4,49.4 0 0 1 296.87,502.44 L289.07,508.86 A39.3,39.3 0 0 0 286.49,506.01 Z" fill="#ee6f27" stroke="#ee6f27" stroke-width="0.6"/>
<path d="M296.54,502.05 A49.4,49.4 0 0 1 299.46,505.89 L291.13,511.60 A39.3,39.3 0 0 0 288.81,508.54 Z" fill="#ed6827" stroke="#ed6827" stroke-width="0.6"/>
<path d="M299.17,505.47 A49.4,49.4 0 0 1 301.74,509.55 L292.94,514.51 A39.3,39.3 0 0 0 290.89,511.26 Z" fill="#ec6027" stroke="#ec6027" stroke-width="0.6"/>
<path d="M301.48,509.10 A49.4,49.4 0 0 1 303.69,513.39 L294.49,517.56 A39.3,39.3 0 0 0 292.73,514.15 Z" fill="#eb5927" stroke="#eb5927" stroke-width="0.6"/>
<path d="M303.47,512.92 A49.4,49.4 0 0 1 305.30,517.39 L295.77,520.75 A39.3,39.3 0 0 0 294.32,517.19 Z" fill="#ea5427" stroke="#ea5427" stroke-width="0.6"/>
<path d="M305.12,516.90 A49.4,49.4 0 0 1 306.55,521.51 L296.77,524.03 A39.3,39.3 0 0 0 295.63,520.36 Z" fill="#e84e27" stroke="#e84e27" stroke-width="0.6"/>
<path d="M306.42,521.01 A49.4,49.4 0 0 1 307.44,525.73 L297.47,527.38 A39.3,39.3 0 0 0 296.66,523.63 Z" fill="#e74827" stroke="#e74827" stroke-width="0.6"/>
<path d="M307.35,525.22 A49.4,49.4 0 0 1 307.95,530.01 L297.88,530.78 A39.3,39.3 0 0 0 297.40,526.98 Z" fill="#e54227" stroke="#e54227" stroke-width="0.6"/>
<path d="M307.91,529.49 A49.4,49.4 0 0 1 308.10,534.32 L298.00,534.21 A39.3,39.3 0 0 0 297.85,530.37 Z" fill="#e43d27" stroke="#e43d27" stroke-width="0.6"/>
<path d="M308.10,533.80 A49.4,49.4 0 0 1 307.86,538.62 L297.81,537.64 A39.3,39.3 0 0 0 298.00,533.80 Z" fill="#e33927" stroke="#e33927" stroke-width="0.6"/>
<path d="M307.91,538.11 A49.4,49.4 0 0 1 307.26,542.89 L297.33,541.03 A39.3,39.3 0 0 0 297.85,537.23 Z" fill="#e23626" stroke="#e23626" stroke-width="0.6"/>
<path d="M307.35,542.38 A49.4,49.4 0 0 1 306.28,547.08 L296.55,544.37 A39.3,39.3 0 0 0 297.40,540.62 Z" fill="#e13426" stroke="#e13426" stroke-width="0.6"/>
<path d="M306.42,546.59 A49.4,49.4 0 0 1 304.94,551.18 L295.49,547.63 A39.3,39.3 0 0 0 296.66,543.97 Z" fill="#e13226" stroke="#e13226" stroke-width="0.6"/>
<path d="M305.12,550.70 A49.4,49.4 0 0 1 303.25,555.15 L294.14,550.78 A39.3,39.3 0 0 0 295.63,547.24 Z" fill="#e03026" stroke="#e03026" stroke-width="0.6"/>
<path d="M303.47,554.68 A49.4,49.4 0 0 1 301.48,558.50 L292.73,553.45 A39.3,39.3 0 0 0 294.32,550.41 Z" fill="#df2d25" stroke="#df2d25" stroke-width="0.6"/>
<line x1="224.67" y1="553.45" x2="215.92" y2="558.50" stroke="#fff4dc" stroke-width="1.4" opacity="0.75"/>
<line x1="219.40" y1="533.80" x2="209.30" y2="533.80" stroke="#fff4dc" stroke-width="1.4" opacity="0.75"/>
<line x1="224.67" y1="514.15" x2="215.92" y2="509.10" stroke="#fff4dc" stroke-width="1.4" opacity="0.75"/>
<line x1="239.05" y1="499.77" x2="234.00" y2="491.02" stroke="#fff4dc" stroke-width="1.4" opacity="0.75"/>
<line x1="258.70" y1="494.50" x2="258.70" y2="484.40" stroke="#fff4dc" stroke-width="1.4" opacity="0.75"/>
<line x1="278.35" y1="499.77" x2="283.40" y2="491.02" stroke="#fff4dc" stroke-width="1.4" opacity="0.75"/>
<line x1="292.73" y1="514.15" x2="301.48" y2="509.10" stroke="#fff4dc" stroke-width="1.4" opacity="0.75"/>
<line x1="298.00" y1="533.80" x2="308.10" y2="533.80" stroke="#fff4dc" stroke-width="1.4" opacity="0.75"/>
<line x1="292.73" y1="553.45" x2="301.48" y2="558.50" stroke="#fff4dc" stroke-width="1.4" opacity="0.75"/>
<polygon points="287.70,512.40 287.10,511.60 256.52,530.93 247.59,539.51 251.21,544.29 260.88,536.67" fill="#e1302a"/>
<circle cx="258.7" cy="533.8" r="6" fill="#2e3236" stroke="#55595e" stroke-width="1"/>
<ellipse cx="537.0" cy="591.8" rx="52" ry="8" fill="#7d8a96" opacity="0.35" filter="url(#blur5)"/>
<circle cx="537" cy="533.8" r="61" fill="url(#bezel)"/>
<circle cx="537" cy="533.8" r="56" fill="url(#bezel2)"/>
<circle cx="537" cy="533.8" r="53.5" fill="#111111"/>
<circle cx="537" cy="533.8" r="52" fill="url(#face1)"/>
<path d="M494.22,558.50 A49.4,49.4 0 0 1 492.01,554.21 L501.21,550.04 A39.3,39.3 0 0 0 502.97,553.45 Z" fill="#70b640" stroke="#70b640" stroke-width="0.6"/>
<path d="M492.23,554.68 A49.4,49.4 0 0 1 490.40,550.21 L499.93,546.85 A39.3,39.3 0 0 0 501.38,550.41 Z" fill="#75b940" stroke="#75b940" stroke-width="0.6"/>
<path d="M490.58,550.70 A49.4,49.4 0 0 1 489.15,546.09 L498.93,543.57 A39.3,39.3 0 0 0 500.07,547.24 Z" fill="#7abb40" stroke="#7abb40" stroke-width="0.6"/>
<path d="M489.28,546.59 A49.4,49.4 0 0 1 488.26,541.87 L498.23,540.22 A39.3,39.3 0 0 0 499.04,543.97 Z" fill="#7fbe3f" stroke="#7fbe3f" stroke-width="0.6"/>
<path d="M488.35,542.38 A49.4,49.4 0 0 1 487.75,537.59 L497.82,536.82 A39.3,39.3 0 0 0 498.30,540.62 Z" fill="#84c03f" stroke="#84c03f" stroke-width="0.6"/>
<path d="M487.79,538.11 A49.4,49.4 0 0 1 487.60,533.28 L497.70,533.39 A39.3,39.3 0 0 0 497.85,537.23 Z" fill="#89c33f" stroke="#89c33f" stroke-width="0.6"/>
<path d="M487.60,533.80 A49.4,49.4 0 0 1 487.84,528.98 L497.89,529.96 A39.3,39.3 0 0 0 497.70,533.80 Z" fill="#90c53e" stroke="#90c53e" stroke-width="0.6"/>
<path d="M487.79,529.49 A49.4,49.4 0 0 1 488.44,524.71 L498.37,526.57 A39.3,39.3 0 0 0 497.85,530.37 Z" fill="#9ac83d" stroke="#9ac83d" stroke-width="0.6"/>
<path d="M488.35,525.22 A49.4,49.4 0 0 1 489.42,520.52 L499.15,523.23 A39.3,39.3 0 0 0 498.30,526.98 Z" fill="#a2ca3b" stroke="#a2ca3b" stroke-width="0.6"/>
<path d="M489.28,521.01 A49.4,49.4 0 0 1 490.76,516.42 L500.21,519.97 A39.3,39.3 0 0 0 499.04,523.63 Z" fill="#accc3a" stroke="#accc3a" stroke-width="0.6"/>
<path d="M490.58,516.90 A49.4,49.4 0 0 1 492.45,512.45 L501.56,516.82 A39.3,39.3 0 0 0 500.07,520.36 Z" fill="#b4ce38" stroke="#b4ce38" stroke-width="0.6"/>
<path d="M492.23,512.92 A49.4,49.4 0 0 1 494.48,508.65 L503.17,513.79 A39.3,39.3 0 0 0 501.38,517.19 Z" fill="#bed137" stroke="#bed137" stroke-width="0.6"/>
<path d="M494.22,509.10 A49.4,49.4 0 0 1 496.83,505.04 L505.05,510.92 A39.3,39.3 0 0 0 502.97,514.15 Z" fill="#c7d036" stroke="#c7d036" stroke-width="0.6"/>
<path d="M496.53,505.47 A49.4,49.4 0 0 1 499.49,501.65 L507.16,508.22 A39.3,39.3 0 0 0 504.81,511.26 Z" fill="#d0cb35" stroke="#d0cb35" stroke-width="0.6"/>
<path d="M499.16,502.05 A49.4,49.4 0 0 1 502.44,498.51 L509.50,505.72 A39.3,39.3 0 0 0 506.89,508.54 Z" fill="#d9c635" stroke="#d9c635" stroke-width="0.6"/>
<path d="M502.07,498.87 A49.4,49.4 0 0 1 505.64,495.63 L512.06,503.43 A39.3,39.3 0 0 0 509.21,506.01 Z" fill="#e2c235" stroke="#e2c235" stroke-width="0.6"/>
<path d="M505.25,495.96 A49.4,49.4 0 0 1 509.09,493.04 L514.80,501.37 A39.3,39.3 0 0 0 511.74,503.69 Z" fill="#ebbd34" stroke="#ebbd34" stroke-width="0.6"/>
<path d="M508.67,493.33 A49.4,49.4 0 0 1 512.75,490.76 L517.71,499.56 A39.3,39.3 0 0 0 514.46,501.61 Z" fill="#f0b933" stroke="#f0b933" stroke-width="0.6"/>
<path d="M512.30,491.02 A49.4,49.4 0 0 1 516.59,488.81 L520.76,498.01 A39.3,39.3 0 0 0 517.35,499.77 Z" fill="#f1b632" stroke="#f1b632" stroke-width="0.6"/>
<path d="M516.12,489.03 A49.4,49.4 0 0 1 520.59,487.20 L523.95,496.73 A39.3,39.3 0 0 0 520.39,498.18 Z" fill="#f2b331" stroke="#f2b331" stroke-width="0.6"/>
<path d="M520.10,487.38 A49.4,49.4 0 0 1 524.71,485.95 L527.23,495.73 A39.3,39.3 0 0 0 523.56,496.87 Z" fill="#f3b02f" stroke="#f3b02f" stroke-width="0.6"/>
<path d="M524.21,486.08 A49.4,49.4 0 0 1 528.93,485.06 L530.58,495.03 A39.3,39.3 0 0 0 526.83,495.84 Z" fill="#f4ad2e" stroke="#f4ad2e" stroke-width="0.6"/>
<path d="M528.42,485.15 A49.4,49.4 0 0 1 533.21,484.55 L533.98,494.62 A39.3,39.3 0 0 0 530.18,495.10 Z" fill="#f5aa2d" stroke="#f5aa2d" stroke-width="0.6"/>
<path d="M532.69,484.59 A49.4,49.4 0 0 1 537.52,484.40 L537.41,494.50 A39.3,39.3 0 0 0 533.57,494.65 Z" fill="#f5a62c" stroke="#f5a62c" stroke-width="0.6"/>
<path d="M537.00,484.40 A49.4,49.4 0 0 1 541.82,484.64 L540.84,494.69 A39.3,39.3 0 0 0 537.00,494.50 Z" fill="#f4a22b" stroke="#f4a22b" stroke-width="0.6"/>
<path d="M541.31,484.59 A49.4,49.4 0 0 1 546.09,485.24 L544.23,495.17 A39.3,39.3 0 0 0 540.43,494.65 Z" fill="#f49d2a" stroke="#f49d2a" stroke-width="0.6"/>
<path d="M545.58,485.15 A49.4,49.4 0 0 1 550.28,486.22 L547.57,495.95 A39.3,39.3 0 0 0 543.82,495.10 Z" fill="#f3992a" stroke="#f3992a" stroke-width="0.6"/>
<path d="M549.79,486.08 A49.4,49.4 0 0 1 554.38,487.56 L550.83,497.01 A39.3,39.3 0 0 0 547.17,495.84 Z" fill="#f29529" stroke="#f29529" stroke-width="0.6"/>
<path d="M553.90,487.38 A49.4,49.4 0 0 1 558.35,489.25 L553.98,498.36 A39.3,39.3 0 0 0 550.44,496.87 Z" fill="#f29028" stroke="#f29028" stroke-width="0.6"/>
<path d="M557.88,489.03 A49.4,49.4 0 0 1 562.15,491.28 L557.01,499.97 A39.3,39.3 0 0 0 553.61,498.18 Z" fill="#f18c27" stroke="#f18c27" stroke-width="0.6"/>
<path d="M561.70,491.02 A49.4,49.4 0 0 1 565.76,493.63 L559.88,501.85 A39.3,39.3 0 0 0 556.65,499.77 Z" fill="#f18627" stroke="#f18627" stroke-width="0.6"/>
<path d="M565.33,493.33 A49.4,49.4 0 0 1 569.15,496.29 L562.58,503.96 A39.3,39.3 0 0 0 559.54,501.61 Z" fill="#f07e27" stroke="#f07e27" stroke-width="0.6"/>
<path d="M568.75,495.96 A49.4,49.4 0 0 1 572.29,499.24 L565.08,506.30 A39.3,39.3 0 0 0 562.26,503.69 Z" fill="#ef7727" stroke="#ef7727" stroke-width="0.6"/>
<path d="M571.93,498.87 A49.4,49.4 0 0 1 575.17,502.44 L567.37,508.86 A39.3,39.3 0 0 0 564.79,506.01 Z" fill="#ee6f27" stroke="#ee6f27" stroke-width="0.6"/>
<path d="M574.84,502.05 A49.4,49.4 0 0 1 577.76,505.89 L569.43,511.60 A39.3,39.3 0 0 0 567.11,508.54 Z" fill="#ed6827" stroke="#ed6827" stroke-width="0.6"/>
<path d="M577.47,505.47 A49.4,49.4 0 0 1 580.04,509.55 L571.24,514.51 A39.3,39.3 0 0 0 569.19,511.26 Z" fill="#ec6027" stroke="#ec6027" stroke-width="0.6"/>
<path d="M579.78,509.10 A49.4,49.4 0 0 1 581.99,513.39 L572.79,517.56 A39.3,39.3 0 0 0 571.03,514.15 Z" fill="#eb5927" stroke="#eb5927" stroke-width="0.6"/>
<path d="M581.77,512.92 A49.4,49.4 0 0 1 583.60,517.39 L574.07,520.75 A39.3,39.3 0 0 0 572.62,517.19 Z" fill="#ea5427" stroke="#ea5427" stroke-width="0.6"/>
<path d="M583.42,516.90 A49.4,49.4 0 0 1 584.85,521.51 L575.07,524.03 A39.3,39.3 0 0 0 573.93,520.36 Z" fill="#e84e27" stroke="#e84e27" stroke-width="0.6"/>
<path d="M584.72,521.01 A49.4,49.4 0 0 1 585.74,525.73 L575.77,527.38 A39.3,39.3 0 0 0 574.96,523.63 Z" fill="#e74827" stroke="#e74827" stroke-width="0.6"/>
<path d="M585.65,525.22 A49.4,49.4 0 0 1 586.25,530.01 L576.18,530.78 A39.3,39.3 0 0 0 575.70,526.98 Z" fill="#e54227" stroke="#e54227" stroke-width="0.6"/>
<path d="M586.21,529.49 A49.4,49.4 0 0 1 586.40,534.32 L576.30,534.21 A39.3,39.3 0 0 0 576.15,530.37 Z" fill="#e43d27" stroke="#e43d27" stroke-width="0.6"/>
<path d="M586.40,533.80 A49.4,49.4 0 0 1 586.16,538.62 L576.11,537.64 A39.3,39.3 0 0 0 576.30,533.80 Z" fill="#e33927" stroke="#e33927" stroke-width="0.6"/>
<path d="M586.21,538.11 A49.4,49.4 0 0 1 585.56,542.89 L575.63,541.03 A39.3,39.3 0 0 0 576.15,537.23 Z" fill="#e23626" stroke="#e23626" stroke-width="0.6"/>
<path d="M585.65,542.38 A49.4,49.4 0 0 1 584.58,547.08 L574.85,544.37 A39.3,39.3 0 0 0 575.70,540.62 Z" fill="#e13426" stroke="#e13426" stroke-width="0.6"/>
<path d="M584.72,546.59 A49.4,49.4 0 0 1 583.24,551.18 L573.79,547.63 A39.3,39.3 0 0 0 574.96,543.97 Z" fill="#e13226" stroke="#e13226" stroke-width="0.6"/>
<path d="M583.42,550.70 A49.4,49.4 0 0 1 581.55,555.15 L572.44,550.78 A39.3,39.3 0 0 0 573.93,547.24 Z" fill="#e03026" stroke="#e03026" stroke-width="0.6"/>
<path d="M581.77,554.68 A49.4,49.4 0 0 1 579.78,558.50 L571.03,553.45 A39.3,39.3 0 0 0 572.62,550.41 Z" fill="#df2d25" stroke="#df2d25" stroke-width="0.6"/>
<line x1="502.97" y1="553.45" x2="494.22" y2="558.50" stroke="#fff4dc" stroke-width="1.4" opacity="0.75"/>
<line x1="497.70" y1="533.80" x2="487.60" y2="533.80" stroke="#fff4dc" stroke-width="1.4" opacity="0.75"/>
<line x1="502.97" y1="514.15" x2="494.22" y2="509.10" stroke="#fff4dc" stroke-width="1.4" opacity="0.75"/>
<line x1="517.35" y1="499.77" x2="512.30" y2="491.02" stroke="#fff4dc" stroke-width="1.4" opacity="0.75"/>
<line x1="537.00" y1="494.50" x2="537.00" y2="484.40" stroke="#fff4dc" stroke-width="1.4" opacity="0.75"/>
<line x1="556.65" y1="499.77" x2="561.70" y2="491.02" stroke="#fff4dc" stroke-width="1.4" opacity="0.75"/>
<line x1="571.03" y1="514.15" x2="579.78" y2="509.10" stroke="#fff4dc" stroke-width="1.4" opacity="0.75"/>
<line x1="576.30" y1="533.80" x2="586.40" y2="533.80" stroke="#fff4dc" stroke-width="1.4" opacity="0.75"/>
<line x1="571.03" y1="553.45" x2="579.78" y2="558.50" stroke="#fff4dc" stroke-width="1.4" opacity="0.75"/>
<polygon points="556.62,503.26 555.78,502.74 533.94,531.90 525.75,543.91 530.85,547.09 540.06,535.70" fill="#f07a22"/>
<circle cx="537" cy="533.8" r="6" fill="#2e3236" stroke="#55595e" stroke-width="1"/>
<ellipse cx="816.0" cy="592.0" rx="52" ry="8" fill="#7d8a96" opacity="0.35" filter="url(#blur5)"/>
<circle cx="816" cy="534" r="61" fill="url(#bezel)"/>
<circle cx="816" cy="534" r="56" fill="url(#bezel2)"/>
<circle cx="816" cy="534" r="53.5" fill="#111111"/>
<circle cx="816" cy="534" r="52" fill="url(#face2)"/>
<path d="M773.22,558.70 A49.4,49.4 0 0 1 771.01,554.41 L780.21,550.24 A39.3,39.3 0 0 0 781.97,553.65 Z" fill="#4aa8e0" stroke="#4aa8e0" stroke-width="0.6"/>
<path d="M771.23,554.88 A49.4,49.4 0 0 1 769.40,550.41 L778.93,547.05 A39.3,39.3 0 0 0 780.38,550.61 Z" fill="#49a8e0" stroke="#49a8e0" stroke-width="0.6"/>
<path d="M769.58,550.90 A49.4,49.4 0 0 1 768.15,546.29 L777.93,543.77 A39.3,39.3 0 0 0 779.07,547.44 Z" fill="#49a8e0" stroke="#49a8e0" stroke-width="0.6"/>
<path d="M768.28,546.79 A49.4,49.4 0 0 1 767.26,542.07 L777.23,540.42 A39.3,39.3 0 0 0 778.04,544.17 Z" fill="#49a8e1" stroke="#49a8e1" stroke-width="0.6"/>
<path d="M767.35,542.58 A49.4,49.4 0 0 1 766.75,537.79 L776.82,537.02 A39.3,39.3 0 0 0 777.30,540.82 Z" fill="#48a8e1" stroke="#48a8e1" stroke-width="0.6"/>
<path d="M766.79,538.31 A49.4,49.4 0 0 1 766.60,533.48 L776.70,533.59 A39.3,39.3 0 0 0 776.85,537.43 Z" fill="#48a8e1" stroke="#48a8e1" stroke-width="0.6"/>
<path d="M766.60,534.00 A49.4,49.4 0 0 1 766.84,529.18 L776.89,530.16 A39.3,39.3 0 0 0 776.70,534.00 Z" fill="#47a9e1" stroke="#47a9e1" stroke-width="0.6"/>
<path d="M766.79,529.69 A49.4,49.4 0 0 1 767.44,524.91 L777.37,526.77 A39.3,39.3 0 0 0 776.85,530.57 Z" fill="#47a9e1" stroke="#47a9e1" stroke-width="0.6"/>
<path d="M767.35,525.42 A49.4,49.4 0 0 1 768.42,520.72 L778.15,523.43 A39.3,39.3 0 0 0 777.30,527.18 Z" fill="#46a9e1" stroke="#46a9e1" stroke-width="0.6"/>
<path d="M768.28,521.21 A49.4,49.4 0 0 1 769.76,516.62 L779.21,520.17 A39.3,39.3 0 0 0 778.04,523.83 Z" fill="#46a9e2" stroke="#46a9e2" stroke-width="0.6"/>
<path d="M769.58,517.10 A49.4,49.4 0 0 1 771.45,512.65 L780.56,517.02 A39.3,39.3 0 0 0 779.07,520.56 Z" fill="#46a9e2" stroke="#46a9e2" stroke-width="0.6"/>
<path d="M771.23,513.12 A49.4,49.4 0 0 1 773.48,508.85 L782.17,513.99 A39.3,39.3 0 0 0 780.38,517.39 Z" fill="#45a9e2" stroke="#45a9e2" stroke-width="0.6"/>
<path d="M773.22,509.30 A49.4,49.4 0 0 1 775.83,505.24 L784.05,511.12 A39.3,39.3 0 0 0 781.97,514.35 Z" fill="#45a9e2" stroke="#45a9e2" stroke-width="0.6"/>
<path d="M775.53,505.67 A49.4,49.4 0 0 1 778.49,501.85 L786.16,508.42 A39.3,39.3 0 0 0 783.81,511.46 Z" fill="#44a8e2" stroke="#44a8e2" stroke-width="0.6"/>
<path d="M778.16,502.25 A49.4,49.4 0 0 1 781.44,498.71 L788.50,505.92 A39.3,39.3 0 0 0 785.89,508.74 Z" fill="#43a8e1" stroke="#43a8e1" stroke-width="0.6"/>
<path d="M781.07,499.07 A49.4,49.4 0 0 1 784.64,495.83 L791.06,503.63 A39.3,39.3 0 0 0 788.21,506.21 Z" fill="#42a7e1" stroke="#42a7e1" stroke-width="0.6"/>
<path d="M784.25,496.16 A49.4,49.4 0 0 1 788.09,493.24 L793.80,501.57 A39.3,39.3 0 0 0 790.74,503.89 Z" fill="#41a6e0" stroke="#41a6e0" stroke-width="0.6"/>
<path d="M787.67,493.53 A49.4,49.4 0 0 1 791.75,490.96 L796.71,499.76 A39.3,39.3 0 0 0 793.46,501.81 Z" fill="#40a6e0" stroke="#40a6e0" stroke-width="0.6"/>
<path d="M791.30,491.22 A49.4,49.4 0 0 1 795.59,489.01 L799.76,498.21 A39.3,39.3 0 0 0 796.35,499.97 Z" fill="#3fa5e0" stroke="#3fa5e0" stroke-width="0.6"/>
<path d="M795.12,489.23 A49.4,49.4 0 0 1 799.59,487.40 L802.95,496.93 A39.3,39.3 0 0 0 799.39,498.38 Z" fill="#3ea5e0" stroke="#3ea5e0" stroke-width="0.6"/>
<path d="M799.10,487.58 A49.4,49.4 0 0 1 803.71,486.15 L806.23,495.93 A39.3,39.3 0 0 0 802.56,497.07 Z" fill="#3da4df" stroke="#3da4df" stroke-width="0.6"/>
<path d="M803.21,486.28 A49.4,49.4 0 0 1 807.93,485.26 L809.58,495.23 A39.3,39.3 0 0 0 805.83,496.04 Z" fill="#3ca3df" stroke="#3ca3df" stroke-width="0.6"/>
<path d="M807.42,485.35 A49.4,49.4 0 0 1 812.21,484.75 L812.98,494.82 A39.3,39.3 0 0 0 809.18,495.30 Z" fill="#3ba3de" stroke="#3ba3de" stroke-width="0.6"/>
<path d="M811.69,484.79 A49.4,49.4 0 0 1 816.52,484.60 L816.41,494.70 A39.3,39.3 0 0 0 812.57,494.85 Z" fill="#3aa2de" stroke="#3aa2de" stroke-width="0.6"/>
<path d="M816.00,484.60 A49.4,49.4 0 0 1 820.82,484.84 L819.84,494.89 A39.3,39.3 0 0 0 816.00,494.70 Z" fill="#39a1dd" stroke="#39a1dd" stroke-width="0.6"/>
<path d="M820.31,484.79 A49.4,49.4 0 0 1 825.09,485.44 L823.23,495.37 A39.3,39.3 0 0 0 819.43,494.85 Z" fill="#379fdc" stroke="#379fdc" stroke-width="0.6"/>
<path d="M824.58,485.35 A49.4,49.4 0 0 1 829.28,486.42 L826.57,496.15 A39.3,39.3 0 0 0 822.82,495.30 Z" fill="#359ddb" stroke="#359ddb" stroke-width="0.6"/>
<path d="M828.79,486.28 A49.4,49.4 0 0 1 833.38,487.76 L829.83,497.21 A39.3,39.3 0 0 0 826.17,496.04 Z" fill="#349ada" stroke="#349ada" stroke-width="0.6"/>
<path d="M832.90,487.58 A49.4,49.4 0 0 1 837.35,489.45 L832.98,498.56 A39.3,39.3 0 0 0 829.44,497.07 Z" fill="#3298d9" stroke="#3298d9" stroke-width="0.6"/>
<path d="M836.88,489.23 A49.4,49.4 0 0 1 841.15,491.48 L836.01,500.17 A39.3,39.3 0 0 0 832.61,498.38 Z" fill="#3096d8" stroke="#3096d8" stroke-width="0.6"/>
<path d="M840.70,491.22 A49.4,49.4 0 0 1 844.76,493.83 L838.88,502.05 A39.3,39.3 0 0 0 835.65,499.97 Z" fill="#2e94d6" stroke="#2e94d6" stroke-width="0.6"/>
<path d="M844.33,493.53 A49.4,49.4 0 0 1 848.15,496.49 L841.58,504.16 A39.3,39.3 0 0 0 838.54,501.81 Z" fill="#2c92d5" stroke="#2c92d5" stroke-width="0.6"/>
<path d="M847.75,496.16 A49.4,49.4 0 0 1 851.29,499.44 L844.08,506.50 A39.3,39.3 0 0 0 841.26,503.89 Z" fill="#2a90d4" stroke="#2a90d4" stroke-width="0.6"/>
<path d="M850.93,499.07 A49.4,49.4 0 0 1 854.17,502.64 L846.37,509.06 A39.3,39.3 0 0 0 843.79,506.21 Z" fill="#298dd3" stroke="#298dd3" stroke-width="0.6"/>
<path d="M853.84,502.25 A49.4,49.4 0 0 1 856.76,506.09 L848.43,511.80 A39.3,39.3 0 0 0 846.11,508.74 Z" fill="#278bd2" stroke="#278bd2" stroke-width="0.6"/>
<path d="M856.47,505.67 A49.4,49.4 0 0 1 859.04,509.75 L850.24,514.71 A39.3,39.3 0 0 0 848.19,511.46 Z" fill="#2589d1" stroke="#2589d1" stroke-width="0.6"/>
<path d="M858.78,509.30 A49.4,49.4 0 0 1 860.99,513.59 L851.79,517.76 A39.3,39.3 0 0 0 850.03,514.35 Z" fill="#2487cf" stroke="#2487cf" stroke-width="0.6"/>
<path d="M860.77,513.12 A49.4,49.4 0 0 1 862.60,517.59 L853.07,520.95 A39.3,39.3 0 0 0 851.62,517.39 Z" fill="#2385ce" stroke="#2385ce" stroke-width="0.6"/>
<path d="M862.42,517.10 A49.4,49.4 0 0 1 863.85,521.71 L854.07,524.23 A39.3,39.3 0 0 0 852.93,520.56 Z" fill="#2283cc" stroke="#2283cc" stroke-width="0.6"/>
<path d="M863.72,521.21 A49.4,49.4 0 0 1 864.74,525.93 L854.77,527.58 A39.3,39.3 0 0 0 853.96,523.83 Z" fill="#2181ca" stroke="#2181ca" stroke-width="0.6"/>
<path d="M864.65,525.42 A49.4,49.4 0 0 1 865.25,530.21 L855.18,530.98 A39.3,39.3 0 0 0 854.70,527.18 Z" fill="#217fc9" stroke="#217fc9" stroke-width="0.6"/>
<path d="M865.21,529.69 A49.4,49.4 0 0 1 865.40,534.52 L855.30,534.41 A39.3,39.3 0 0 0 855.15,530.57 Z" fill="#207dc7" stroke="#207dc7" stroke-width="0.6"/>
<path d="M865.40,534.00 A49.4,49.4 0 0 1 865.16,538.82 L855.11,537.84 A39.3,39.3 0 0 0 855.30,534.00 Z" fill="#1f7ac6" stroke="#1f7ac6" stroke-width="0.6"/>
<path d="M865.21,538.31 A49.4,49.4 0 0 1 864.56,543.09 L854.63,541.23 A39.3,39.3 0 0 0 855.15,537.43 Z" fill="#1e78c4" stroke="#1e78c4" stroke-width="0.6"/>
<path d="M864.65,542.58 A49.4,49.4 0 0 1 863.58,547.28 L853.85,544.57 A39.3,39.3 0 0 0 854.70,540.82 Z" fill="#1e76c3" stroke="#1e76c3" stroke-width="0.6"/>
<path d="M863.72,546.79 A49.4,49.4 0 0 1 862.24,551.38 L852.79,547.83 A39.3,39.3 0 0 0 853.96,544.17 Z" fill="#1d74c1" stroke="#1d74c1" stroke-width="0.6"/>
<path d="M862.42,550.90 A49.4,49.4 0 0 1 860.55,555.35 L851.44,550.98 A39.3,39.3 0 0 0 852.93,547.44 Z" fill="#1c72bf" stroke="#1c72bf" stroke-width="0.6"/>
<path d="M860.77,554.88 A49.4,49.4 0 0 1 858.78,558.70 L850.03,553.65 A39.3,39.3 0 0 0 851.62,550.61 Z" fill="#1b70be" stroke="#1b70be" stroke-width="0.6"/>
<line x1="781.97" y1="553.65" x2="773.22" y2="558.70" stroke="#fff4dc" stroke-width="1.4" opacity="0.75"/>
<line x1="776.70" y1="534.00" x2="766.60" y2="534.00" stroke="#fff4dc" stroke-width="1.4" opacity="0.75"/>
<line x1="781.97" y1="514.35" x2="773.22" y2="509.30" stroke="#fff4dc" stroke-width="1.4" opacity="0.75"/>
<line x1="796.35" y1="499.97" x2="791.30" y2="491.22" stroke="#fff4dc" stroke-width="1.4" opacity="0.75"/>
<line x1="816.00" y1="494.70" x2="816.00" y2="484.60" stroke="#fff4dc" stroke-width="1.4" opacity="0.75"/>
<line x1="835.65" y1="499.97" x2="840.70" y2="491.22" stroke="#fff4dc" stroke-width="1.4" opacity="0.75"/>
<line x1="850.03" y1="514.35" x2="858.78" y2="509.30" stroke="#fff4dc" stroke-width="1.4" opacity="0.75"/>
<line x1="855.30" y1="534.00" x2="865.40" y2="534.00" stroke="#fff4dc" stroke-width="1.4" opacity="0.75"/>
<line x1="850.03" y1="553.65" x2="858.78" y2="558.70" stroke="#fff4dc" stroke-width="1.4" opacity="0.75"/>
<polygon points="842.15,508.75 841.45,508.05 813.46,531.44 804.59,541.97 808.81,546.23 818.54,536.56" fill="#2b9ad8"/>
<circle cx="816" cy="534" r="6" fill="#2e3236" stroke="#55595e" stroke-width="1"/>
<ellipse cx="1093.5" cy="592.2" rx="52" ry="8" fill="#7d8a96" opacity="0.35" filter="url(#blur5)"/>
<circle cx="1093.5" cy="534.2" r="61" fill="url(#bezel)"/>
<circle cx="1093.5" cy="534.2" r="56" fill="url(#bezel2)"/>
<circle cx="1093.5" cy="534.2" r="53.5" fill="#111111"/>
<circle cx="1093.5" cy="534.2" r="52" fill="url(#face3)"/>
<path d="M1050.72,558.90 A49.4,49.4 0 0 1 1048.51,554.61 L1057.71,550.44 A39.3,39.3 0 0 0 1059.47,553.85 Z" fill="#70b640" stroke="#70b640" stroke-width="0.6"/>
<path d="M1048.73,555.08 A49.4,49.4 0 0 1 1046.90,550.61 L1056.43,547.25 A39.3,39.3 0 0 0 1057.88,550.81 Z" fill="#75b940" stroke="#75b940" stroke-width="0.6"/>
<path d="M1047.08,551.10 A49.4,49.4 0 0 1 1045.65,546.49 L1055.43,543.97 A39.3,39.3 0 0 0 1056.57,547.64 Z" fill="#7abb40" stroke="#7abb40" stroke-width="0.6"/>
<path d="M1045.78,546.99 A49.4,49.4 0 0 1 1044.76,542.27 L1054.73,540.62 A39.3,39.3 0 0 0 1055.54,544.37 Z" fill="#7fbe3f" stroke="#7fbe3f" stroke-width="0.6"/>
<path d="M1044.85,542.78 A49.4,49.4 0 0 1 1044.25,537.99 L1054.32,537.22 A39.3,39.3 0 0 0 1054.80,541.02 Z" fill="#84c03f" stroke="#84c03f" stroke-width="0.6"/>
<path d="M1044.29,538.51 A49.4,49.4 0 0 1 1044.10,533.68 L1054.20,533.79 A39.3,39.3 0 0 0 1054.35,537.63 Z" fill="#89c33f" stroke="#89c33f" stroke-width="0.6"/>
<path d="M1044.10,534.20 A49.4,49.4 0 0 1 1044.34,529.38 L1054.39,530.36 A39.3,39.3 0 0 0 1054.20,534.20 Z" fill="#90c53e" stroke="#90c53e" stroke-width="0.6"/>
<path d="M1044.29,529.89 A49.4,49.4 0 0 1 1044.94,525.11 L1054.87,526.97 A39.3,39.3 0 0 0 1054.35,530.77 Z" fill="#9ac83d" stroke="#9ac83d" stroke-width="0.6"/>
<path d="M1044.85,525.62 A49.4,49.4 0 0 1 1045.92,520.92 L1055.65,523.63 A39.3,39.3 0 0 0 1054.80,527.38 Z" fill="#a2ca3b" stroke="#a2ca3b" stroke-width="0.6"/>
<path d="M1045.78,521.41 A49.4,49.4 0 0 1 1047.26,516.82 L1056.71,520.37 A39.3,39.3 0 0 0 1055.54,524.03 Z" fill="#accc3a" stroke="#accc3a" stroke-width="0.6"/>
<path d="M1047.08,517.30 A49.4,49.4 0 0 1 1048.95,512.85 L1058.06,517.22 A39.3,39.3 0 0 0 1056.57,520.76 Z" fill="#b4ce38" stroke="#b4ce38" stroke-width="0.6"/>
<path d="M1048.73,513.32 A49.4,49.4 0 0 1 1050.98,509.05 L1059.67,514.19 A39.3,39.3 0 0 0 1057.88,517.59 Z" fill="#bed137" stroke="#bed137" stroke-width="0.6"/>
<path d="M1050.72,509.50 A49.4,49.4 0 0 1 1053.33,505.44 L1061.55,511.32 A39.3,39.3 0 0 0 1059.47,514.55 Z" fill="#c7d036" stroke="#c7d036" stroke-width="0.6"/>
<path d="M1053.03,505.87 A49.4,49.4 0 0 1 1055.99,502.05 L1063.66,508.62 A39.3,39.3 0 0 0 1061.31,511.66 Z" fill="#d0cb35" stroke="#d0cb35" stroke-width="0.6"/>
<path d="M1055.66,502.45 A49.4,49.4 0 0 1 1058.94,498.91 L1066.00,506.12 A39.3,39.3 0 0 0 1063.39,508.94 Z" fill="#d9c635" stroke="#d9c635" stroke-width="0.6"/>
<path d="M1058.57,499.27 A49.4,49.4 0 0 1 1062.14,496.03 L1068.56,503.83 A39.3,39.3 0 0 0 1065.71,506.41 Z" fill="#e2c235" stroke="#e2c235" stroke-width="0.6"/>
<path d="M1061.75,496.36 A49.4,49.4 0 0 1 1065.59,493.44 L1071.30,501.77 A39.3,39.3 0 0 0 1068.24,504.09 Z" fill="#ebbd34" stroke="#ebbd34" stroke-width="0.6"/>
<path d="M1065.17,493.73 A49.4,49.4 0 0 1 1069.25,491.16 L1074.21,499.96 A39.3,39.3 0 0 0 1070.96,502.01 Z" fill="#f0b933" stroke="#f0b933" stroke-width="0.6"/>
<path d="M1068.80,491.42 A49.4,49.4 0 0 1 1073.09,489.21 L1077.26,498.41 A39.3,39.3 0 0 0 1073.85,500.17 Z" fill="#f1b632" stroke="#f1b632" stroke-width="0.6"/>
<path d="M1072.62,489.43 A49.4,49.4 0 0 1 1077.09,487.60 L1080.45,497.13 A39.3,39.3 0 0 0 1076.89,498.58 Z" fill="#f2b331" stroke="#f2b331" stroke-width="0.6"/>
<path d="M1076.60,487.78 A49.4,49.4 0 0 1 1081.21,486.35 L1083.73,496.13 A39.3,39.3 0 0 0 1080.06,497.27 Z" fill="#f3b02f" stroke="#f3b02f" stroke-width="0.6"/>
<path d="M1080.71,486.48 A49.4,49.4 0 0 1 1085.43,485.46 L1087.08,495.43 A39.3,39.3 0 0 0 1083.33,496.24 Z" fill="#f4ad2e" stroke="#f4ad2e" stroke-width="0.6"/>
<path d="M1084.92,485.55 A49.4,49.4 0 0 1 1089.71,484.95 L1090.48,495.02 A39.3,39.3 0 0 0 1086.68,495.50 Z" fill="#f5aa2d" stroke="#f5aa2d" stroke-width="0.6"/>
<path d="M1089.19,484.99 A49.4,49.4 0 0 1 1094.02,484.80 L1093.91,494.90 A39.3,39.3 0 0 0 1090.07,495.05 Z" fill="#f5a62c" stroke="#f5a62c" stroke-width="0.6"/>
<path d="M1093.50,484.80 A49.4,49.4 0 0 1 1098.32,485.04 L1097.34,495.09 A39.3,39.3 0 0 0 1093.50,494.90 Z" fill="#f4a22b" stroke="#f4a22b" stroke-width="0.6"/>
<path d="M1097.81,484.99 A49.4,49.4 0 0 1 1102.59,485.64 L1100.73,495.57 A39.3,39.3 0 0 0 1096.93,495.05 Z" fill="#f49d2a" stroke="#f49d2a" stroke-width="0.6"/>
<path d="M1102.08,485.55 A49.4,49.4 0 0 1 1106.78,486.62 L1104.07,496.35 A39.3,39.3 0 0 0 1100.32,495.50 Z" fill="#f3992a" stroke="#f3992a" stroke-width="0.6"/>
<path d="M1106.29,486.48 A49.4,49.4 0 0 1 1110.88,487.96 L1107.33,497.41 A39.3,39.3 0 0 0 1103.67,496.24 Z" fill="#f29529" stroke="#f29529" stroke-width="0.6"/>
<path d="M1110.40,487.78 A49.4,49.4 0 0 1 1114.85,489.65 L1110.48,498.76 A39.3,39.3 0 0 0 1106.94,497.27 Z" fill="#f29028" stroke="#f29028" stroke-width="0.6"/>
<path d="M1114.38,489.43 A49.4,49.4 0 0 1 1118.65,491.68 L1113.51,500.37 A39.3,39.3 0 0 0 1110.11,498.58 Z" fill="#f18c27" stroke="#f18c27" stroke-width="0.6"/>
<path d="M1118.20,491.42 A49.4,49.4 0 0 1 1122.26,494.03 L1116.38,502.25 A39.3,39.3 0 0 0 1113.15,500.17 Z" fill="#f18627" stroke="#f18627" stroke-width="0.6"/>
<path d="M1121.83,493.73 A49.4,49.4 0 0 1 1125.65,496.69 L1119.08,504.36 A39.3,39.3 0 0 0 1116.04,502.01 Z" fill="#f07e27" stroke="#f07e27" stroke-width="0.6"/>
<path d="M1125.25,496.36 A49.4,49.4 0 0 1 1128.79,499.64 L1121.58,506.70 A39.3,39.3 0 0 0 1118.76,504.09 Z" fill="#ef7727" stroke="#ef7727" stroke-width="0.6"/>
<path d="M1128.43,499.27 A49.4,49.4 0 0 1 1131.67,502.84 L1123.87,509.26 A39.3,39.3 0 0 0 1121.29,506.41 Z" fill="#ee6f27" stroke="#ee6f27" stroke-width="0.6"/>
<path d="M1131.34,502.45 A49.4,49.4 0 0 1 1134.26,506.29 L1125.93,512.00 A39.3,39.3 0 0 0 1123.61,508.94 Z" fill="#ed6827" stroke="#ed6827" stroke-width="0.6"/>
<path d="M1133.97,505.87 A49.4,49.4 0 0 1 1136.54,509.95 L1127.74,514.91 A39.3,39.3 0 0 0 1125.69,511.66 Z" fill="#ec6027" stroke="#ec6027" stroke-width="0.6"/>
<path d="M1136.28,509.50 A49.4,49.4 0 0 1 1138.49,513.79 L1129.29,517.96 A39.3,39.3 0 0 0 1127.53,514.55 Z" fill="#eb5927" stroke="#eb5927" stroke-width="0.6"/>
<path d="M1138.27,513.32 A49.4,49.4 0 0 1 1140.10,517.79 L1130.57,521.15 A39.3,39.3 0 0 0 1129.12,517.59 Z" fill="#ea5427" stroke="#ea5427" stroke-width="0.6"/>
<path d="M1139.92,517.30 A49.4,49.4 0 0 1 1141.35,521.91 L1131.57,524.43 A39.3,39.3 0 0 0 1130.43,520.76 Z" fill="#e84e27" stroke="#e84e27" stroke-width="0.6"/>
<path d="M1141.22,521.41 A49.4,49.4 0 0 1 1142.24,526.13 L1132.27,527.78 A39.3,39.3 0 0 0 1131.46,524.03 Z" fill="#e74827" stroke="#e74827" stroke-width="0.6"/>
<path d="M1142.15,525.62 A49.4,49.4 0 0 1 1142.75,530.41 L1132.68,531.18 A39.3,39.3 0 0 0 1132.20,527.38 Z" fill="#e54227" stroke="#e54227" stroke-width="0.6"/>
<path d="M1142.71,529.89 A49.4,49.4 0 0 1 1142.90,534.72 L1132.80,534.61 A39.3,39.3 0 0 0 1132.65,530.77 Z" fill="#e43d27" stroke="#e43d27" stroke-width="0.6"/>
<path d="M1142.90,534.20 A49.4,49.4 0 0 1 1142.66,539.02 L1132.61,538.04 A39.3,39.3 0 0 0 1132.80,534.20 Z" fill="#e33927" stroke="#e33927" stroke-width="0.6"/>
<path d="M1142.71,538.51 A49.4,49.4 0 0 1 1142.06,543.29 L1132.13,541.43 A39.3,39.3 0 0 0 1132.65,537.63 Z" fill="#e23626" stroke="#e23626" stroke-width="0.6"/>
<path d="M1142.15,542.78 A49.4,49.4 0 0 1 1141.08,547.48 L1131.35,544.77 A39.3,39.3 0 0 0 1132.20,541.02 Z" fill="#e13426" stroke="#e13426" stroke-width="0.6"/>
<path d="M1141.22,546.99 A49.4,49.4 0 0 1 1139.74,551.58 L1130.29,548.03 A39.3,39.3 0 0 0 1131.46,544.37 Z" fill="#e13226" stroke="#e13226" stroke-width="0.6"/>
<path d="M1139.92,551.10 A49.4,49.4 0 0 1 1138.05,555.55 L1128.94,551.18 A39.3,39.3 0 0 0 1130.43,547.64 Z" fill="#e03026" stroke="#e03026" stroke-width="0.6"/>
<path d="M1138.27,555.08 A49.4,49.4 0 0 1 1136.28,558.90 L1127.53,553.85 A39.3,39.3 0 0 0 1129.12,550.81 Z" fill="#df2d25" stroke="#df2d25" stroke-width="0.6"/>
<line x1="1059.47" y1="553.85" x2="1050.72" y2="558.90" stroke="#fff4dc" stroke-width="1.4" opacity="0.75"/>
<line x1="1054.20" y1="534.20" x2="1044.10" y2="534.20" stroke="#fff4dc" stroke-width="1.4" opacity="0.75"/>
<line x1="1059.47" y1="514.55" x2="1050.72" y2="509.50" stroke="#fff4dc" stroke-width="1.4" opacity="0.75"/>
<line x1="1073.85" y1="500.17" x2="1068.80" y2="491.42" stroke="#fff4dc" stroke-width="1.4" opacity="0.75"/>
<line x1="1093.50" y1="494.90" x2="1093.50" y2="484.80" stroke="#fff4dc" stroke-width="1.4" opacity="0.75"/>
<line x1="1113.15" y1="500.17" x2="1118.20" y2="491.42" stroke="#fff4dc" stroke-width="1.4" opacity="0.75"/>
<line x1="1127.53" y1="514.55" x2="1136.28" y2="509.50" stroke="#fff4dc" stroke-width="1.4" opacity="0.75"/>
<line x1="1132.80" y1="534.20" x2="1142.90" y2="534.20" stroke="#fff4dc" stroke-width="1.4" opacity="0.75"/>
<line x1="1127.53" y1="553.85" x2="1136.28" y2="558.90" stroke="#fff4dc" stroke-width="1.4" opacity="0.75"/>
<polygon points="1128.68,520.76 1128.32,519.84 1092.17,530.85 1079.79,536.91 1082.01,542.49 1094.83,537.55" fill="#f07a22"/>
<circle cx="1093.5" cy="534.2" r="6" fill="#2e3236" stroke="#55595e" stroke-width="1"/>
<ellipse cx="335.3" cy="580.2" rx="22" ry="4" fill="#7d8a96" opacity="0.3" filter="url(#blur3)"/>
<circle cx="335.3" cy="554.2" r="27.2" fill="url(#b1ring)"/>
<circle cx="335.3" cy="554.2" r="23" fill="url(#b1in)"/>
<g transform="translate(335.30,554.20) scale(1.0,1)"><path d="M -2.9,-17.9 C 1,-13 4.5,-9.5 4.8,-5.2 C 6,-6.2 7.2,-7 8.1,-8.3 C 11.8,-4 13.5,1 13.2,5.6 C 13,11 9.5,15.5 4.8,17.6 C 5.5,12.5 5,8.5 3.5,5.5 C 2,3 0.5,0.8 -1.2,-1.1 C -4.5,2 -7.4,6 -7.3,10.5 C -7.2,13.5 -7.2,15.5 -7.3,17.3 C -11.5,15.5 -14.2,11 -14,5.6 C -13.8,1.5 -11.8,-2.5 -8.9,-5.5 C -8.2,-4.2 -7.2,-3.5 -6,-3.3 C -6.5,-9 -5.5,-14 -2.9,-17.9 Z" fill="url(#flame1)"/></g>
<ellipse cx="613.1" cy="580.6" rx="22" ry="4" fill="#7d8a96" opacity="0.3" filter="url(#blur3)"/>
<circle cx="613.1" cy="554.6" r="27.2" fill="url(#b2ring)"/>
<circle cx="613.1" cy="554.6" r="23" fill="url(#b2in)"/>
<g transform="translate(613.10,554.60) scale(1.0,1)"><path d="M -2.9,-17.9 C 1,-13 4.5,-9.5 4.8,-5.2 C 6,-6.2 7.2,-7 8.1,-8.3 C 11.8,-4 13.5,1 13.2,5.6 C 13,11 9.5,15.5 4.8,17.6 C 5.5,12.5 5,8.5 3.5,5.5 C 2,3 0.5,0.8 -1.2,-1.1 C -4.5,2 -7.4,6 -7.3,10.5 C -7.2,13.5 -7.2,15.5 -7.3,17.3 C -11.5,15.5 -14.2,11 -14,5.6 C -13.8,1.5 -11.8,-2.5 -8.9,-5.5 C -8.2,-4.2 -7.2,-3.5 -6,-3.3 C -6.5,-9 -5.5,-14 -2.9,-17.9 Z" fill="url(#flame2)"/></g>
<ellipse cx="892.8" cy="580.5" rx="22" ry="4" fill="#7d8a96" opacity="0.3" filter="url(#blur3)"/>
<circle cx="892.8" cy="554.5" r="27.2" fill="url(#b3ring)"/>
<circle cx="892.8" cy="554.5" r="23" fill="url(#b3in)"/>
<path d="M889.30,539.40 C891.92,547.10 899.80,555.62 899.80,561.40 A10.5,10.5 0 0 1 878.80,561.40 C878.80,555.62 886.67,547.10 889.30,539.40 Z" fill="#6cc2ee"/>
<path d="M882.8,560.5 C882.8,565.5 886.8,567.5 891.8,567.0" stroke="#2a7fc4" stroke-width="1.4" fill="none"/>
<path d="M902.20,538.90 C903.40,541.56 907.00,543.86 907.00,546.50 A4.8,4.8 0 0 1 897.40,546.50 C897.40,543.86 901.00,541.56 902.20,538.90 Z" fill="#6cc2ee"/>
<path d="M898.8,546.5 C898.8,549.0 900.8,550.0 902.8,549.7" stroke="#2a7fc4" stroke-width="1" fill="none"/>
<ellipse cx="1170.3" cy="580.5" rx="22" ry="4" fill="#7d8a96" opacity="0.3" filter="url(#blur3)"/>
<circle cx="1170.3" cy="554.5" r="27.2" fill="url(#b4ring)"/>
<circle cx="1170.3" cy="554.5" r="23" fill="url(#b4in)"/>
<g transform="translate(1170.30,554.50) scale(0.9,1)"><path d="M -2.9,-17.9 C 1,-13 4.5,-9.5 4.8,-5.2 C 6,-6.2 7.2,-7 8.1,-8.3 C 11.8,-4 13.5,1 13.2,5.6 C 13,11 9.5,15.5 4.8,17.6 C 5.5,12.5 5,8.5 3.5,5.5 C 2,3 0.5,0.8 -1.2,-1.1 C -4.5,2 -7.4,6 -7.3,10.5 C -7.2,13.5 -7.2,15.5 -7.3,17.3 C -11.5,15.5 -14.2,11 -14,5.6 C -13.8,1.5 -11.8,-2.5 -8.9,-5.5 C -8.2,-4.2 -7.2,-3.5 -6,-3.3 C -6.5,-9 -5.5,-14 -2.9,-17.9 Z" fill="url(#flame4)"/></g>
<g font-family='"Liberation Sans", sans-serif'>
<text x="100.60" y="59.00" font-size="33.8" font-weight="bold" fill="#1c3d72" stroke="#1c3d72" stroke-width="0.3" stroke-linejoin="round" textLength="1097.01" lengthAdjust="spacingAndGlyphs">Evolución del Crédito de Vehículos en Colombia: Enero 2023 - 2026</text>
<text x="193.00" y="121.30" font-size="23.4" font-weight="bold" fill="#ffffff" textLength="118.04" lengthAdjust="spacingAndGlyphs">Enero 2023</text>
<text x="467.20" y="121.30" font-size="23.4" font-weight="bold" fill="#ffffff" textLength="118.41" lengthAdjust="spacingAndGlyphs">Enero 2024</text>
<text x="741.40" y="121.30" font-size="23.4" font-weight="bold" fill="#ffffff" textLength="118.24" lengthAdjust="spacingAndGlyphs">Enero 2025</text>
<text x="1022.60" y="121.30" font-size="23.4" font-weight="bold" fill="#ffffff" textLength="119.24" lengthAdjust="spacingAndGlyphs">Enero 2026</text>
<text x="126.80" y="220.30" font-size="16.5" font-weight="normal" fill="#1a1a1a" textLength="137.07" lengthAdjust="spacingAndGlyphs">Desembolso Total</text>
<text x="148.20" y="245.40" font-size="24.6" font-weight="bold" fill="#111111" stroke="#111111" stroke-width="0.7" stroke-linejoin="round" textLength="94.40" lengthAdjust="spacingAndGlyphs">$461,28</text>
<text x="149.20" y="263.50" font-size="17" font-weight="bold" fill="#111111" textLength="92.61" lengthAdjust="spacingAndGlyphs">Mil Millones</text>
<text x="261.80" y="316.70" font-size="18" font-weight="normal" fill="#1a1a1a" textLength="100.25" lengthAdjust="spacingAndGlyphs">Operaciones:</text>
<text x="279.00" y="340.20" font-size="24.2" font-weight="bold" fill="#111111" stroke="#111111" stroke-width="0.7" stroke-linejoin="round" textLength="64.45" lengthAdjust="spacingAndGlyphs">9,186</text>
<text x="399.40" y="248.70" font-size="16.5" font-weight="normal" fill="#1a1a1a" textLength="141.07" lengthAdjust="spacingAndGlyphs">Desembolso Total:</text>
<text x="423.20" y="273.10" font-size="24.6" font-weight="bold" fill="#111111" stroke="#111111" stroke-width="0.7" stroke-linejoin="round" textLength="95.20" lengthAdjust="spacingAndGlyphs">$375,75</text>
<text x="424.20" y="291.60" font-size="17" font-weight="bold" fill="#111111" textLength="92.61" lengthAdjust="spacingAndGlyphs">Mil Millones</text>
<text x="535.20" y="347.60" font-size="18" font-weight="normal" fill="#1a1a1a" textLength="101.25" lengthAdjust="spacingAndGlyphs">Operaciones:</text>
<text x="550.40" y="371.00" font-size="24.2" font-weight="bold" fill="#111111" stroke="#111111" stroke-width="0.7" stroke-linejoin="round" textLength="69.44" lengthAdjust="spacingAndGlyphs">6,863</text>
<text x="672.80" y="199.30" font-size="16.5" font-weight="normal" fill="#1a1a1a" textLength="140.84" lengthAdjust="spacingAndGlyphs">Desembolso Total:</text>
<text x="698.80" y="223.70" font-size="24.6" font-weight="bold" fill="#111111" stroke="#111111" stroke-width="0.7" stroke-linejoin="round" textLength="89.61" lengthAdjust="spacingAndGlyphs">$811,08</text>
<text x="696.40" y="242.80" font-size="17" font-weight="bold" fill="#111111" textLength="93.45" lengthAdjust="spacingAndGlyphs">Mil Millones</text>
<text x="810.40" y="296.10" font-size="18" font-weight="normal" fill="#1a1a1a" textLength="100.62" lengthAdjust="spacingAndGlyphs">Operaciones:</text>
<text x="824.00" y="320.30" font-size="24.2" font-weight="bold" fill="#111111" stroke="#111111" stroke-width="0.7" stroke-linejoin="round" textLength="72.03" lengthAdjust="spacingAndGlyphs">11,383</text>
<text x="949.60" y="152.20" font-size="16.5" font-weight="normal" fill="#1a1a1a" textLength="142.07" lengthAdjust="spacingAndGlyphs">Desembolso Total:</text>
<text x="991.80" y="176.90" font-size="24.6" font-weight="bold" fill="#111111" stroke="#111111" stroke-width="0.7" stroke-linejoin="round" textLength="57.22" lengthAdjust="spacingAndGlyphs">$1.19</text>
<text x="989.00" y="195.10" font-size="17" font-weight="bold" fill="#111111" textLength="62.02" lengthAdjust="spacingAndGlyphs">Billones</text>
<text x="1088.20" y="236.70" font-size="18" font-weight="normal" fill="#1a1a1a" textLength="98.63" lengthAdjust="spacingAndGlyphs">Operaciones:</text>
<text x="1104.00" y="259.50" font-size="24.2" font-weight="bold" fill="#111111" stroke="#111111" stroke-width="0.7" stroke-linejoin="round" textLength="71.24" lengthAdjust="spacingAndGlyphs">15,316</text>
<text x="54.00" y="294.80" font-size="17" font-weight="normal" fill="#1a1a1a" textLength="95.62" lengthAdjust="spacingAndGlyphs">Desembolso</text>
<text x="83.40" y="313.00" font-size="17" font-weight="normal" fill="#1a1a1a" textLength="36.82" lengthAdjust="spacingAndGlyphs">Total</text>
<text x="52.20" y="433.60" font-size="17" font-weight="normal" fill="#1a1a1a" textLength="96.41" lengthAdjust="spacingAndGlyphs">Operaciones</text>
<text x="156.00" y="530.30" font-size="17.8" font-weight="normal" fill="#1a1a1a" textLength="33.20" lengthAdjust="spacingAndGlyphs">Tasa</text>
<text x="157.60" y="549.30" font-size="17.8" font-weight="normal" fill="#1a1a1a" textLength="31.15" lengthAdjust="spacingAndGlyphs">E.A.</text>
<text x="228.60" y="568.20" font-size="16.2" font-weight="bold" fill="#ffffff" textLength="60.42" lengthAdjust="spacingAndGlyphs">25,94%</text>
<text x="433.60" y="530.30" font-size="17.8" font-weight="normal" fill="#1a1a1a" textLength="33.20" lengthAdjust="spacingAndGlyphs">Tasa</text>
<text x="435.00" y="549.30" font-size="17.8" font-weight="normal" fill="#1a1a1a" textLength="31.24" lengthAdjust="spacingAndGlyphs">E.A.</text>
<text x="508.80" y="568.20" font-size="16.2" font-weight="bold" fill="#ffffff" textLength="55.20" lengthAdjust="spacingAndGlyphs">22,14%</text>
<text x="713.60" y="530.30" font-size="17.8" font-weight="normal" fill="#1a1a1a" textLength="32.20" lengthAdjust="spacingAndGlyphs">Tasa</text>
<text x="715.00" y="549.30" font-size="17.8" font-weight="normal" fill="#1a1a1a" textLength="30.15" lengthAdjust="spacingAndGlyphs">E.A.</text>
<text x="787.80" y="568.20" font-size="16.2" font-weight="bold" fill="#ffffff" textLength="55.02" lengthAdjust="spacingAndGlyphs">17,39%</text>
<text x="990.00" y="530.30" font-size="17.8" font-weight="normal" fill="#1a1a1a" textLength="34.41" lengthAdjust="spacingAndGlyphs">Tasa</text>
<text x="991.40" y="549.30" font-size="17.8" font-weight="normal" fill="#1a1a1a" textLength="31.36" lengthAdjust="spacingAndGlyphs">E.A.</text>
<text x="1065.20" y="568.20" font-size="16.2" font-weight="bold" fill="#ffffff" textLength="56.61" lengthAdjust="spacingAndGlyphs">18,37%</text>
<text x="26.20" y="600.90" font-size="12.5" font-weight="normal" fill="#1a1a1a" textLength="129.80" lengthAdjust="spacingAndGlyphs">Fuente: Superfinanciera</text>
<text x="24.00" y="180.20" font-size="19.5" font-weight="bold" fill="#34186f" textLength="69.06" lengthAdjust="spacingAndGlyphs">Fenalco</text>
<text x="41.80" y="188.80" font-size="5.6" font-weight="bold" fill="#34186f" textLength="35.44" lengthAdjust="spacingAndGlyphs">ANTIOQUIA</text>
<text x="122.60" y="159.50" font-size="9.8" font-weight="normal" fill="#2b2f38" textLength="71.03" lengthAdjust="spacingAndGlyphs">Investigaciones</text>
<text x="123.60" y="171.00" font-size="9.8" font-weight="normal" fill="#2b2f38" textLength="53.80" lengthAdjust="spacingAndGlyphs">Económicas</text>
</g>
</svg>
</body></html>
